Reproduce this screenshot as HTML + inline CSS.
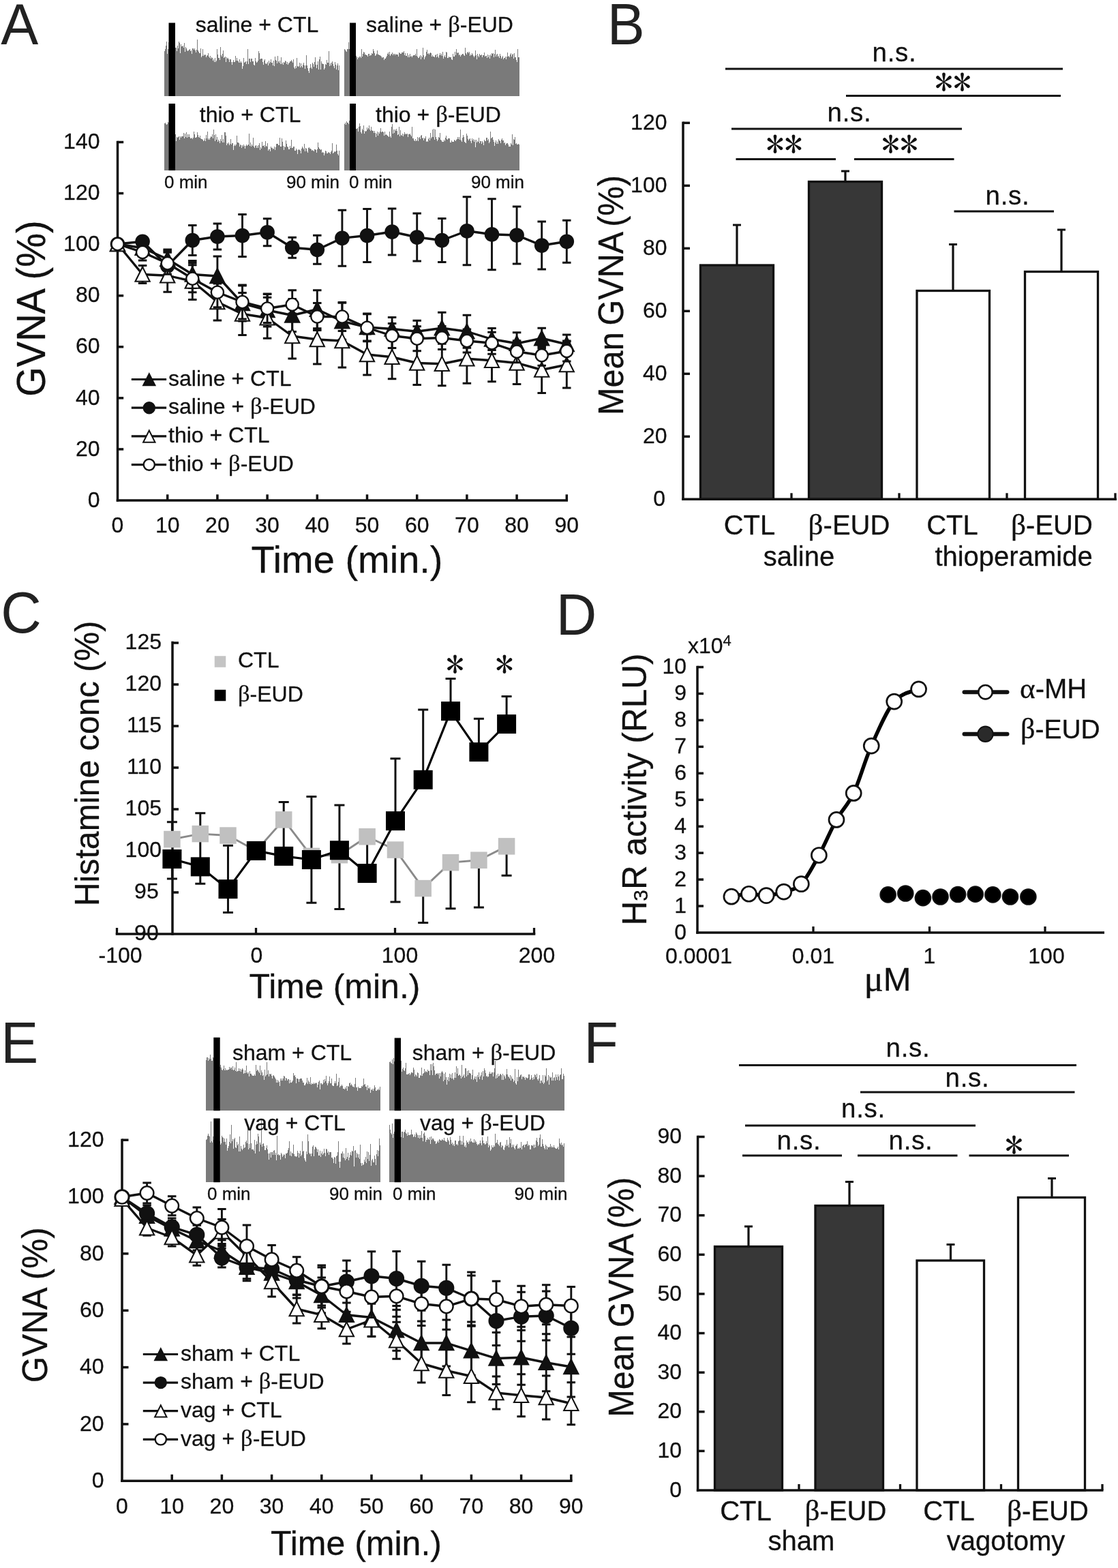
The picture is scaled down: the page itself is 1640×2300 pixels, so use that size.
<!DOCTYPE html>
<html lang="en"><head><meta charset="utf-8"><title>Figure</title>
<style>html,body{margin:0;padding:0;background:#fff;overflow:hidden;width:1640px;height:2300px}svg{display:block}text{stroke:#111;stroke-width:.3px;stroke-linejoin:round}</style>
</head><body>
<svg width="1640" height="2300" viewBox="0 0 1640 2300" font-family="'Liberation Sans', sans-serif" fill="#111">
<rect width="1640" height="2300" fill="#fff"/>
<text x="0" y="0" font-size="85" transform="translate(1.3 65) scale(0.97 1)" fill="#222" style="stroke:none">A</text>
<text x="0" y="0" font-size="85" transform="translate(890.7 65) scale(0.97 1)" fill="#222" style="stroke:none">B</text>
<text x="0" y="0" font-size="85" transform="translate(1.3 927.5) scale(0.97 1)" fill="#222" style="stroke:none">C</text>
<text x="0" y="0" font-size="85" transform="translate(815.7 931.3) scale(0.97 1)" fill="#222" style="stroke:none">D</text>
<text x="0" y="0" font-size="85" transform="translate(1.3 1558.6) scale(0.97 1)" fill="#222" style="stroke:none">E</text>
<text x="0" y="0" font-size="85" transform="translate(856.4 1558.6) scale(0.97 1)" fill="#222" style="stroke:none">F</text>
<path d="M241 140.5V74.9h1V71.7h1V67.4h1V60.5h1V78.5h1V72.2h1V62.2h1V66.8h1V71.5h1V70.9h1V69.8h1V74.1h1V67.6h1V76.7h1V66.2h1V72.7h1V70.3h1V69.6h1V75.4h1V67.2h1V71.3h1V60.5h1V62.5h1V77.5h1V64.6h1V68.3h1V68.1h1V66.6h1V70.0h1V62.6h1V75.8h1V69.2h1V70.5h1V73.6h1V75.2h1V74.2h1V73.2h1V71.7h1V75.3h1V74.4h1V79.3h1V70.9h1V71.3h1V73.4h1V71.2h1V73.8h1V76.9h1V73.3h1V57.9h1V73.6h1V75.7h1V78.0h1V77.6h1V70.5h1V83.8h1V81.8h1V72.3h1V81.9h1V79.8h1V80.8h1V79.7h1V84.0h1V82.3h1V80.9h1V77.7h1V83.2h1V85.4h1V81.8h1V86.3h1V84.1h1V84.9h1V88.6h1V87.1h1V90.5h1V84.6h1V91.0h1V88.6h1V71.7h1V80.4h1V85.4h1V85.0h1V87.5h1V68.5h1V81.1h1V82.5h1V79.1h1V74.2h1V84.5h1V83.6h1V83.2h1V90.6h1V84.4h1V86.2h1V85.2h1V86.5h1V90.5h1V87.1h1V86.9h1V90.6h1V95.0h1V90.7h1V87.9h1V90.5h1V90.5h1V82.3h1V89.1h1V85.3h1V88.7h1V90.3h1V91.6h1V87.0h1V91.7h1V89.5h1V92.3h1V100.9h1V97.3h1V85.1h1V92.4h1V91.2h1V89.5h1V94.1h1V90.3h1V71.7h1V94.1h1V86.4h1V86.1h1V90.6h1V86.0h1V86.0h1V90.0h1V90.3h1V94.5h1V95.7h1V85.0h1V89.8h1V92.4h1V90.6h1V88.8h1V74.6h1V77.5h1V87.3h1V86.1h1V86.1h1V85.5h1V90.5h1V95.0h1V88.7h1V86.9h1V92.8h1V94.0h1V93.3h1V90.8h1V96.0h1V89.2h1V93.2h1V91.2h1V87.3h1V92.4h1V92.1h1V95.7h1V89.2h1V96.9h1V82.7h1V88.3h1V88.8h1V93.1h1V82.0h1V90.2h1V91.9h1V89.0h1V94.1h1V84.2h1V93.7h1V91.9h1V95.3h1V91.3h1V91.6h1V88.7h1V89.5h1V94.0h1V91.0h1V95.2h1V92.8h1V91.5h1V89.7h1V90.1h1V88.3h1V90.3h1V92.2h1V87.2h1V98.8h1V101.4h1V96.6h1V100.1h1V85.4h1V96.6h1V98.3h1V97.3h1V92.2h1V98.8h1V93.1h1V96.6h1V98.7h1V95.3h1V92.2h1V96.2h1V101.1h1V96.3h1V80.9h1V95.7h1V100.0h1V103.5h1V106.5h1V99.9h1V94.0h1V99.1h1V100.6h1V92.2h1V94.0h1V98.1h1V91.1h1V83.8h1V94.9h1V100.0h1V94.7h1V89.9h1V102.0h1V87.1h1V82.5h1V102.2h1V89.8h1V93.0h1V94.1h1V94.4h1V102.0h1V99.8h1V94.2h1V95.2h1V88.2h1V92.0h1V92.1h1V74.8h1V96.6h1V92.8h1V95.6h1V91.8h1V90.1h1V93.5h1V97.1h1V100.1h1V90.9h1V95.3h1V101.8h1V95.8h1V92.7h1V103.1h1V96.0h1V140.5 Z" fill="#7a7a7a" shape-rendering="crispEdges"/>
<rect x="247.5" y="33.5" width="9.5" height="107.5" fill="#000"/>
<path d="M505 140.5V71.5h1V73.4h1V74.5h1V76.1h1V72.1h1V71.7h1V62.1h1V72.1h1V73.4h1V71.2h1V77.7h1V67.6h1V72.3h1V80.4h1V82.6h1V83.5h1V85.1h1V82.3h1V84.0h1V86.6h1V84.3h1V84.5h1V82.8h1V82.7h1V85.0h1V72.2h1V82.5h1V78.8h1V75.5h1V77.3h1V79.8h1V80.4h1V80.5h1V80.9h1V82.8h1V79.1h1V79.2h1V81.9h1V80.6h1V80.7h1V77.8h1V78.6h1V72.0h1V74.5h1V77.7h1V82.2h1V80.6h1V78.7h1V74.3h1V80.2h1V79.9h1V81.0h1V80.8h1V82.4h1V82.8h1V84.9h1V83.6h1V83.7h1V88.4h1V85.5h1V85.7h1V83.9h1V82.2h1V79.0h1V76.9h1V79.5h1V75.9h1V82.2h1V80.1h1V78.9h1V76.8h1V81.3h1V78.5h1V78.7h1V80.7h1V78.7h1V80.1h1V79.8h1V80.0h1V82.8h1V76.9h1V78.3h1V79.1h1V79.4h1V77.1h1V77.3h1V76.5h1V75.2h1V80.8h1V78.1h1V81.8h1V81.8h1V77.5h1V83.7h1V81.0h1V83.6h1V79.3h1V82.5h1V82.3h1V83.8h1V82.2h1V80.5h1V81.4h1V80.6h1V78.5h1V82.3h1V72.4h1V82.7h1V84.8h1V84.7h1V83.0h1V81.2h1V86.8h1V81.8h1V84.4h1V69.9h1V81.4h1V86.6h1V83.8h1V81.8h1V76.0h1V73.3h1V79.3h1V77.7h1V79.5h1V78.3h1V77.4h1V78.1h1V83.2h1V81.1h1V82.6h1V83.2h1V84.0h1V80.9h1V80.2h1V83.6h1V79.4h1V83.1h1V84.8h1V80.5h1V77.7h1V80.6h1V78.5h1V82.1h1V76.3h1V86.0h1V82.6h1V81.4h1V83.8h1V75.8h1V77.3h1V85.4h1V85.1h1V82.8h1V84.4h1V84.4h1V84.3h1V87.3h1V87.6h1V79.4h1V83.4h1V82.8h1V75.8h1V80.7h1V71.6h1V77.4h1V78.3h1V77.3h1V81.1h1V79.9h1V82.5h1V80.5h1V80.0h1V78.8h1V78.9h1V80.9h1V81.9h1V70.3h1V77.8h1V80.1h1V77.2h1V76.0h1V77.7h1V76.4h1V81.6h1V79.6h1V80.6h1V77.9h1V80.0h1V82.3h1V84.4h1V82.0h1V74.3h1V81.3h1V87.1h1V79.4h1V81.6h1V84.3h1V78.9h1V81.4h1V80.9h1V80.3h1V83.8h1V80.8h1V80.5h1V77.1h1V83.4h1V82.2h1V81.9h1V85.2h1V79.9h1V83.9h1V80.9h1V86.3h1V80.2h1V82.0h1V77.7h1V79.1h1V78.3h1V83.9h1V78.7h1V72.6h1V83.1h1V80.0h1V78.6h1V83.3h1V82.4h1V84.9h1V78.6h1V81.9h1V85.6h1V83.9h1V82.4h1V87.3h1V84.5h1V85.0h1V83.3h1V86.9h1V82.7h1V77.4h1V82.9h1V81.5h1V83.5h1V80.1h1V78.2h1V83.4h1V80.2h1V79.4h1V86.0h1V77.6h1V83.5h1V84.1h1V87.7h1V90.9h1V72.4h1V84.0h1V83.6h1V140.5 Z" fill="#7a7a7a" shape-rendering="crispEdges"/>
<rect x="513" y="33.5" width="9" height="107.5" fill="#000"/>
<path d="M241 249.5V180.8h1V179.9h1V181.6h1V182.8h1V182.2h1V179.0h1V179.6h1V181.3h1V179.9h1V185.5h1V177.4h1V182.8h1V200.9h1V197.1h1V199.7h1V185.6h1V197.3h1V206.8h1V200.7h1V202.4h1V200.7h1V200.0h1V204.5h1V200.2h1V202.3h1V199.9h1V200.1h1V200.1h1V195.0h1V203.4h1V195.9h1V200.6h1V194.4h1V201.8h1V197.2h1V201.0h1V196.5h1V200.9h1V203.2h1V203.4h1V201.9h1V203.9h1V202.2h1V193.3h1V196.9h1V202.3h1V201.5h1V200.7h1V193.5h1V197.6h1V200.9h1V201.7h1V199.1h1V203.2h1V203.6h1V203.6h1V205.1h1V207.4h1V206.3h1V203.3h1V207.0h1V198.1h1V203.0h1V193.2h1V204.6h1V202.5h1V205.1h1V201.5h1V200.2h1V200.5h1V197.1h1V203.0h1V190.1h1V198.0h1V206.6h1V197.3h1V205.3h1V200.9h1V207.5h1V204.6h1V206.9h1V209.6h1V203.6h1V206.8h1V198.1h1V209.3h1V203.6h1V208.9h1V193.8h1V194.4h1V199.1h1V213.2h1V210.1h1V210.9h1V208.6h1V213.1h1V211.0h1V203.8h1V212.0h1V210.2h1V209.8h1V220.2h1V214.4h1V212.1h1V213.6h1V212.1h1V199.2h1V208.5h1V208.8h1V209.5h1V214.6h1V212.0h1V212.6h1V216.6h1V212.6h1V215.0h1V211.6h1V213.6h1V217.8h1V214.1h1V211.5h1V213.5h1V213.0h1V211.8h1V196.4h1V213.5h1V209.2h1V215.0h1V212.4h1V213.8h1V202.4h1V215.0h1V216.6h1V213.5h1V212.8h1V217.1h1V214.4h1V216.6h1V212.7h1V210.1h1V219.7h1V215.7h1V218.1h1V208.4h1V213.6h1V214.1h1V212.8h1V215.9h1V206.9h1V214.2h1V215.2h1V210.3h1V221.0h1V219.0h1V218.7h1V221.8h1V214.8h1V216.8h1V217.4h1V218.8h1V218.3h1V215.2h1V220.3h1V216.4h1V211.1h1V211.4h1V211.1h1V213.1h1V213.0h1V201.7h1V215.3h1V214.6h1V203.2h1V208.4h1V213.5h1V219.5h1V215.4h1V215.6h1V206.0h1V211.3h1V215.3h1V216.2h1V218.7h1V218.8h1V214.1h1V217.2h1V205.4h1V216.6h1V217.3h1V215.3h1V215.3h1V220.5h1V221.3h1V218.2h1V220.1h1V225.5h1V220.1h1V219.2h1V220.2h1V220.9h1V224.6h1V218.4h1V214.9h1V217.3h1V218.5h1V211.1h1V221.5h1V216.6h1V217.6h1V222.2h1V224.1h1V217.4h1V215.7h1V218.4h1V218.4h1V218.8h1V221.0h1V220.1h1V221.0h1V222.4h1V219.2h1V219.2h1V220.4h1V223.8h1V219.4h1V208.9h1V215.6h1V217.5h1V218.8h1V219.8h1V218.7h1V223.9h1V223.3h1V224.1h1V227.7h1V224.5h1V220.7h1V222.2h1V225.2h1V224.7h1V223.1h1V223.9h1V224.4h1V225.9h1V223.4h1V221.3h1V209.8h1V225.0h1V223.8h1V221.7h1V223.0h1V221.9h1V212.2h1V221.3h1V226.0h1V227.5h1V220.7h1V249.5 Z" fill="#7a7a7a" shape-rendering="crispEdges"/>
<rect x="247.5" y="152" width="9.5" height="98" fill="#000"/>
<path d="M505 249.5V181.7h1V179.7h1V182.7h1V178.1h1V180.2h1V180.3h1V181.8h1V177.2h1V184.9h1V182.6h1V175.1h1V181.8h1V178.9h1V189.2h1V189.5h1V190.3h1V189.0h1V188.8h1V189.4h1V188.3h1V192.5h1V186.4h1V180.9h1V184.8h1V194.2h1V195.8h1V188.7h1V191.4h1V184.2h1V195.9h1V191.5h1V192.6h1V191.8h1V187.1h1V190.0h1V188.0h1V183.9h1V190.2h1V191.6h1V185.6h1V190.5h1V192.2h1V191.8h1V195.0h1V192.4h1V195.4h1V200.9h1V195.7h1V193.1h1V198.5h1V193.6h1V195.7h1V193.4h1V187.9h1V193.7h1V192.8h1V193.2h1V193.5h1V198.6h1V193.3h1V197.9h1V196.8h1V198.0h1V199.4h1V200.3h1V200.8h1V192.8h1V199.8h1V202.2h1V185.9h1V181.9h1V196.1h1V189.5h1V194.7h1V190.0h1V192.2h1V189.4h1V192.3h1V197.9h1V196.5h1V185.5h1V199.6h1V191.4h1V197.5h1V199.4h1V195.7h1V199.5h1V196.8h1V193.9h1V197.1h1V195.6h1V196.9h1V195.7h1V201.0h1V196.9h1V197.2h1V195.7h1V197.5h1V200.4h1V185.6h1V202.5h1V202.9h1V205.7h1V207.0h1V203.9h1V207.2h1V206.2h1V200.7h1V206.9h1V201.8h1V201.1h1V203.6h1V198.5h1V198.1h1V203.1h1V202.3h1V205.7h1V203.2h1V203.0h1V199.9h1V208.4h1V206.9h1V207.5h1V203.7h1V202.1h1V206.0h1V194.8h1V202.6h1V201.4h1V189.6h1V201.0h1V188.9h1V205.1h1V189.5h1V201.1h1V204.1h1V207.0h1V204.8h1V201.4h1V201.9h1V194.5h1V204.6h1V205.9h1V207.6h1V207.6h1V207.8h1V204.7h1V207.4h1V201.6h1V199.0h1V204.3h1V204.9h1V202.7h1V203.4h1V203.2h1V208.9h1V208.6h1V205.9h1V208.0h1V207.5h1V207.7h1V205.4h1V205.7h1V206.7h1V205.4h1V203.6h1V200.5h1V203.5h1V200.5h1V205.3h1V189.8h1V205.9h1V207.6h1V202.0h1V197.5h1V201.2h1V207.5h1V209.1h1V209.7h1V196.3h1V199.0h1V204.4h1V206.2h1V203.6h1V203.3h1V207.1h1V210.4h1V202.9h1V206.1h1V203.6h1V207.9h1V205.2h1V215.5h1V205.3h1V208.8h1V206.7h1V208.1h1V201.5h1V210.0h1V206.9h1V206.5h1V211.1h1V207.4h1V208.5h1V212.9h1V205.3h1V207.1h1V207.4h1V201.5h1V201.7h1V205.7h1V203.6h1V210.1h1V208.3h1V193.2h1V203.2h1V202.1h1V200.9h1V204.9h1V207.9h1V213.5h1V209.2h1V206.2h1V211.0h1V207.6h1V210.6h1V204.1h1V206.4h1V206.5h1V210.2h1V205.3h1V202.8h1V206.0h1V206.1h1V210.0h1V209.1h1V213.4h1V210.8h1V209.7h1V210.1h1V212.1h1V214.8h1V215.2h1V214.9h1V210.1h1V211.6h1V197.4h1V212.8h1V204.3h1V204.8h1V201.3h1V211.1h1V210.0h1V212.2h1V211.7h1V211.2h1V211.7h1V249.5 Z" fill="#7a7a7a" shape-rendering="crispEdges"/>
<rect x="513" y="152" width="9" height="98" fill="#000"/>
<text x="377" y="46.8" font-size="32" text-anchor="middle">saline + CTL</text>
<text x="645" y="46.8" font-size="32" text-anchor="middle">saline + <tspan font-family="'Liberation Serif', serif" font-size="108%">β</tspan>-EUD</text>
<text x="367" y="179" font-size="32" text-anchor="middle">thio + CTL</text>
<text x="643" y="179" font-size="32" text-anchor="middle">thio + <tspan font-family="'Liberation Serif', serif" font-size="108%">β</tspan>-EUD</text>
<text x="241" y="276" font-size="26">0 min</text>
<text x="498" y="276" font-size="26" text-anchor="end">90 min</text>
<text x="512" y="276" font-size="26">0 min</text>
<text x="769" y="276" font-size="26" text-anchor="end">90 min</text>
<line x1="172.5" y1="206.746" x2="172.5" y2="735.75" stroke="#111" stroke-width="3.5" stroke-linecap="butt"/>
<line x1="170.75" y1="734" x2="833.05" y2="734" stroke="#111" stroke-width="3.5" stroke-linecap="butt"/>
<line x1="172.5" y1="658.928" x2="181.2" y2="658.928" stroke="#111" stroke-width="3.5" stroke-linecap="butt"/>
<line x1="172.5" y1="583.856" x2="181.2" y2="583.856" stroke="#111" stroke-width="3.5" stroke-linecap="butt"/>
<line x1="172.5" y1="508.784" x2="181.2" y2="508.784" stroke="#111" stroke-width="3.5" stroke-linecap="butt"/>
<line x1="172.5" y1="433.712" x2="181.2" y2="433.712" stroke="#111" stroke-width="3.5" stroke-linecap="butt"/>
<line x1="172.5" y1="358.64" x2="181.2" y2="358.64" stroke="#111" stroke-width="3.5" stroke-linecap="butt"/>
<line x1="172.5" y1="283.568" x2="181.2" y2="283.568" stroke="#111" stroke-width="3.5" stroke-linecap="butt"/>
<line x1="172.5" y1="208.496" x2="181.2" y2="208.496" stroke="#111" stroke-width="3.5" stroke-linecap="butt"/>
<line x1="245.7" y1="734" x2="245.7" y2="725.3" stroke="#111" stroke-width="3.5" stroke-linecap="butt"/>
<line x1="318.9" y1="734" x2="318.9" y2="725.3" stroke="#111" stroke-width="3.5" stroke-linecap="butt"/>
<line x1="392.1" y1="734" x2="392.1" y2="725.3" stroke="#111" stroke-width="3.5" stroke-linecap="butt"/>
<line x1="465.3" y1="734" x2="465.3" y2="725.3" stroke="#111" stroke-width="3.5" stroke-linecap="butt"/>
<line x1="538.5" y1="734" x2="538.5" y2="725.3" stroke="#111" stroke-width="3.5" stroke-linecap="butt"/>
<line x1="611.7" y1="734" x2="611.7" y2="725.3" stroke="#111" stroke-width="3.5" stroke-linecap="butt"/>
<line x1="684.9" y1="734" x2="684.9" y2="725.3" stroke="#111" stroke-width="3.5" stroke-linecap="butt"/>
<line x1="758.1" y1="734" x2="758.1" y2="725.3" stroke="#111" stroke-width="3.5" stroke-linecap="butt"/>
<line x1="831.3" y1="734" x2="831.3" y2="725.3" stroke="#111" stroke-width="3.5" stroke-linecap="butt"/>
<text x="146.5" y="743.7" font-size="32" text-anchor="end">0</text>
<text x="146.5" y="668.628" font-size="32" text-anchor="end">20</text>
<text x="146.5" y="593.556" font-size="32" text-anchor="end">40</text>
<text x="146.5" y="518.484" font-size="32" text-anchor="end">60</text>
<text x="146.5" y="443.412" font-size="32" text-anchor="end">80</text>
<text x="146.5" y="368.34" font-size="32" text-anchor="end">100</text>
<text x="146.5" y="293.268" font-size="32" text-anchor="end">120</text>
<text x="146.5" y="218.196" font-size="32" text-anchor="end">140</text>
<text x="172.5" y="781" font-size="32" text-anchor="middle">0</text>
<text x="245.7" y="781" font-size="32" text-anchor="middle">10</text>
<text x="318.9" y="781" font-size="32" text-anchor="middle">20</text>
<text x="392.1" y="781" font-size="32" text-anchor="middle">30</text>
<text x="465.3" y="781" font-size="32" text-anchor="middle">40</text>
<text x="538.5" y="781" font-size="32" text-anchor="middle">50</text>
<text x="611.7" y="781" font-size="32" text-anchor="middle">60</text>
<text x="684.9" y="781" font-size="32" text-anchor="middle">70</text>
<text x="758.1" y="781" font-size="32" text-anchor="middle">80</text>
<text x="831.3" y="781" font-size="32" text-anchor="middle">90</text>
<polyline points="172.5,358 209.1,363.75 245.7,380 282.3,402.5 318.9,405 355.5,445 392.1,455 428.7,462.5 465.3,453.75 501.9,471.25 538.5,480 575.1,482.5 611.7,486.25 648.3,481.25 684.9,486.25 721.5,497.5 758.1,503.75 794.7,496.25 831.3,505" fill="none" stroke="#111" stroke-width="3.4" stroke-linejoin="round"/>
<path d="M209.1 353.75V373.75M202.85 353.75H215.35M202.85 373.75H215.35" fill="none" stroke="#111" stroke-width="2.9"/>
<path d="M245.7 366V394M239.45 366H251.95M239.45 394H251.95" fill="none" stroke="#111" stroke-width="2.9"/>
<path d="M282.3 382.5V422.5M276.05 382.5H288.55M276.05 422.5H288.55" fill="none" stroke="#111" stroke-width="2.9"/>
<path d="M318.9 376V434M312.65 376H325.15M312.65 434H325.15" fill="none" stroke="#111" stroke-width="2.9"/>
<path d="M355.5 419V471M349.25 419H361.75M349.25 471H361.75" fill="none" stroke="#111" stroke-width="2.9"/>
<path d="M392.1 431V479M385.85 431H398.35M385.85 479H398.35" fill="none" stroke="#111" stroke-width="2.9"/>
<path d="M428.7 438.5V486.5M422.45 438.5H434.95M422.45 486.5H434.95" fill="none" stroke="#111" stroke-width="2.9"/>
<path d="M465.3 425.75V481.75M459.05 425.75H471.55M459.05 481.75H471.55" fill="none" stroke="#111" stroke-width="2.9"/>
<path d="M501.9 444.25V498.25M495.65 444.25H508.15M495.65 498.25H508.15" fill="none" stroke="#111" stroke-width="2.9"/>
<path d="M538.5 460V500M532.25 460H544.75M532.25 500H544.75" fill="none" stroke="#111" stroke-width="2.9"/>
<path d="M575.1 465.5V499.5M568.85 465.5H581.35M568.85 499.5H581.35" fill="none" stroke="#111" stroke-width="2.9"/>
<path d="M611.7 470.25V502.25M605.45 470.25H617.95M605.45 502.25H617.95" fill="none" stroke="#111" stroke-width="2.9"/>
<path d="M648.3 458.25V504.25M642.05 458.25H654.55M642.05 504.25H654.55" fill="none" stroke="#111" stroke-width="2.9"/>
<path d="M684.9 462.25V510.25M678.65 462.25H691.15M678.65 510.25H691.15" fill="none" stroke="#111" stroke-width="2.9"/>
<path d="M721.5 481.5V513.5M715.25 481.5H727.75M715.25 513.5H727.75" fill="none" stroke="#111" stroke-width="2.9"/>
<path d="M758.1 487.75V519.75M751.85 487.75H764.35M751.85 519.75H764.35" fill="none" stroke="#111" stroke-width="2.9"/>
<path d="M794.7 481.25V511.25M788.45 481.25H800.95M788.45 511.25H800.95" fill="none" stroke="#111" stroke-width="2.9"/>
<path d="M831.3 491V519M825.05 491H837.55M825.05 519H837.55" fill="none" stroke="#111" stroke-width="2.9"/>
<path d="M172.50 347.15L183.10 368.20L161.90 368.20Z" fill="#111" stroke="#111" stroke-width="2.1" stroke-linejoin="miter"/>
<path d="M209.10 352.90L219.70 373.95L198.50 373.95Z" fill="#111" stroke="#111" stroke-width="2.1" stroke-linejoin="miter"/>
<path d="M245.70 369.15L256.30 390.20L235.10 390.20Z" fill="#111" stroke="#111" stroke-width="2.1" stroke-linejoin="miter"/>
<path d="M282.30 391.65L292.90 412.70L271.70 412.70Z" fill="#111" stroke="#111" stroke-width="2.1" stroke-linejoin="miter"/>
<path d="M318.90 394.15L329.50 415.20L308.30 415.20Z" fill="#111" stroke="#111" stroke-width="2.1" stroke-linejoin="miter"/>
<path d="M355.50 434.15L366.10 455.20L344.90 455.20Z" fill="#111" stroke="#111" stroke-width="2.1" stroke-linejoin="miter"/>
<path d="M392.10 444.15L402.70 465.20L381.50 465.20Z" fill="#111" stroke="#111" stroke-width="2.1" stroke-linejoin="miter"/>
<path d="M428.70 451.65L439.30 472.70L418.10 472.70Z" fill="#111" stroke="#111" stroke-width="2.1" stroke-linejoin="miter"/>
<path d="M465.30 442.90L475.90 463.95L454.70 463.95Z" fill="#111" stroke="#111" stroke-width="2.1" stroke-linejoin="miter"/>
<path d="M501.90 460.40L512.50 481.45L491.30 481.45Z" fill="#111" stroke="#111" stroke-width="2.1" stroke-linejoin="miter"/>
<path d="M538.50 469.15L549.10 490.20L527.90 490.20Z" fill="#111" stroke="#111" stroke-width="2.1" stroke-linejoin="miter"/>
<path d="M575.10 471.65L585.70 492.70L564.50 492.70Z" fill="#111" stroke="#111" stroke-width="2.1" stroke-linejoin="miter"/>
<path d="M611.70 475.40L622.30 496.45L601.10 496.45Z" fill="#111" stroke="#111" stroke-width="2.1" stroke-linejoin="miter"/>
<path d="M648.30 470.40L658.90 491.45L637.70 491.45Z" fill="#111" stroke="#111" stroke-width="2.1" stroke-linejoin="miter"/>
<path d="M684.90 475.40L695.50 496.45L674.30 496.45Z" fill="#111" stroke="#111" stroke-width="2.1" stroke-linejoin="miter"/>
<path d="M721.50 486.65L732.10 507.70L710.90 507.70Z" fill="#111" stroke="#111" stroke-width="2.1" stroke-linejoin="miter"/>
<path d="M758.10 492.90L768.70 513.95L747.50 513.95Z" fill="#111" stroke="#111" stroke-width="2.1" stroke-linejoin="miter"/>
<path d="M794.70 485.40L805.30 506.45L784.10 506.45Z" fill="#111" stroke="#111" stroke-width="2.1" stroke-linejoin="miter"/>
<path d="M831.30 494.15L841.90 515.20L820.70 515.20Z" fill="#111" stroke="#111" stroke-width="2.1" stroke-linejoin="miter"/>
<polyline points="172.5,358 209.1,354.25 245.7,390 282.3,352.5 318.9,347 355.5,345.5 392.1,340.75 428.7,363.25 465.3,366.25 501.9,349.25 538.5,345.5 575.1,340 611.7,348 648.3,352.5 684.9,338.75 721.5,343.75 758.1,345 794.7,360 831.3,354.25" fill="none" stroke="#111" stroke-width="3.4" stroke-linejoin="round"/>
<path d="M209.1 349.25V359.25M202.85 349.25H215.35M202.85 359.25H215.35" fill="none" stroke="#111" stroke-width="2.9"/>
<path d="M245.7 368V412M239.45 368H251.95M239.45 412H251.95" fill="none" stroke="#111" stroke-width="2.9"/>
<path d="M282.3 330.5V374.5M276.05 330.5H288.55M276.05 374.5H288.55" fill="none" stroke="#111" stroke-width="2.9"/>
<path d="M318.9 328V366M312.65 328H325.15M312.65 366H325.15" fill="none" stroke="#111" stroke-width="2.9"/>
<path d="M355.5 314.5V376.5M349.25 314.5H361.75M349.25 376.5H361.75" fill="none" stroke="#111" stroke-width="2.9"/>
<path d="M392.1 320.75V360.75M385.85 320.75H398.35M385.85 360.75H398.35" fill="none" stroke="#111" stroke-width="2.9"/>
<path d="M428.7 348.25V378.25M422.45 348.25H434.95M422.45 378.25H434.95" fill="none" stroke="#111" stroke-width="2.9"/>
<path d="M465.3 345.25V387.25M459.05 345.25H471.55M459.05 387.25H471.55" fill="none" stroke="#111" stroke-width="2.9"/>
<path d="M501.9 308.25V390.25M495.65 308.25H508.15M495.65 390.25H508.15" fill="none" stroke="#111" stroke-width="2.9"/>
<path d="M538.5 306.5V384.5M532.25 306.5H544.75M532.25 384.5H544.75" fill="none" stroke="#111" stroke-width="2.9"/>
<path d="M575.1 306V374M568.85 306H581.35M568.85 374H581.35" fill="none" stroke="#111" stroke-width="2.9"/>
<path d="M611.7 313V383M605.45 313H617.95M605.45 383H617.95" fill="none" stroke="#111" stroke-width="2.9"/>
<path d="M648.3 320.5V384.5M642.05 320.5H654.55M642.05 384.5H654.55" fill="none" stroke="#111" stroke-width="2.9"/>
<path d="M684.9 288.75V388.75M678.65 288.75H691.15M678.65 388.75H691.15" fill="none" stroke="#111" stroke-width="2.9"/>
<path d="M721.5 291.75V395.75M715.25 291.75H727.75M715.25 395.75H727.75" fill="none" stroke="#111" stroke-width="2.9"/>
<path d="M758.1 303V387M751.85 303H764.35M751.85 387H764.35" fill="none" stroke="#111" stroke-width="2.9"/>
<path d="M794.7 325V395M788.45 325H800.95M788.45 395H800.95" fill="none" stroke="#111" stroke-width="2.9"/>
<path d="M831.3 323.25V385.25M825.05 323.25H837.55M825.05 385.25H837.55" fill="none" stroke="#111" stroke-width="2.9"/>
<circle cx="172.5" cy="358" r="9.7" fill="#111" stroke="#111" stroke-width="2.2"/>
<circle cx="209.1" cy="354.25" r="9.7" fill="#111" stroke="#111" stroke-width="2.2"/>
<circle cx="245.7" cy="390" r="9.7" fill="#111" stroke="#111" stroke-width="2.2"/>
<circle cx="282.3" cy="352.5" r="9.7" fill="#111" stroke="#111" stroke-width="2.2"/>
<circle cx="318.9" cy="347" r="9.7" fill="#111" stroke="#111" stroke-width="2.2"/>
<circle cx="355.5" cy="345.5" r="9.7" fill="#111" stroke="#111" stroke-width="2.2"/>
<circle cx="392.1" cy="340.75" r="9.7" fill="#111" stroke="#111" stroke-width="2.2"/>
<circle cx="428.7" cy="363.25" r="9.7" fill="#111" stroke="#111" stroke-width="2.2"/>
<circle cx="465.3" cy="366.25" r="9.7" fill="#111" stroke="#111" stroke-width="2.2"/>
<circle cx="501.9" cy="349.25" r="9.7" fill="#111" stroke="#111" stroke-width="2.2"/>
<circle cx="538.5" cy="345.5" r="9.7" fill="#111" stroke="#111" stroke-width="2.2"/>
<circle cx="575.1" cy="340" r="9.7" fill="#111" stroke="#111" stroke-width="2.2"/>
<circle cx="611.7" cy="348" r="9.7" fill="#111" stroke="#111" stroke-width="2.2"/>
<circle cx="648.3" cy="352.5" r="9.7" fill="#111" stroke="#111" stroke-width="2.2"/>
<circle cx="684.9" cy="338.75" r="9.7" fill="#111" stroke="#111" stroke-width="2.2"/>
<circle cx="721.5" cy="343.75" r="9.7" fill="#111" stroke="#111" stroke-width="2.2"/>
<circle cx="758.1" cy="345" r="9.7" fill="#111" stroke="#111" stroke-width="2.2"/>
<circle cx="794.7" cy="360" r="9.7" fill="#111" stroke="#111" stroke-width="2.2"/>
<circle cx="831.3" cy="354.25" r="9.7" fill="#111" stroke="#111" stroke-width="2.2"/>
<polyline points="172.5,358 209.1,402.5 245.7,404.25 282.3,412.5 318.9,443 355.5,460.5 392.1,466.25 428.7,493 465.3,498 501.9,500 538.5,520 575.1,523.75 611.7,532.5 648.3,533.75 684.9,526.25 721.5,528.75 758.1,532.5 794.7,542.5 831.3,535" fill="none" stroke="#111" stroke-width="3.4" stroke-linejoin="round"/>
<path d="M209.1 389.5V415.5M202.85 389.5H215.35M202.85 415.5H215.35" fill="none" stroke="#111" stroke-width="2.9"/>
<path d="M245.7 380.25V428.25M239.45 380.25H251.95M239.45 428.25H251.95" fill="none" stroke="#111" stroke-width="2.9"/>
<path d="M282.3 385.5V439.5M276.05 385.5H288.55M276.05 439.5H288.55" fill="none" stroke="#111" stroke-width="2.9"/>
<path d="M318.9 416V470M312.65 416H325.15M312.65 470H325.15" fill="none" stroke="#111" stroke-width="2.9"/>
<path d="M355.5 429.5V491.5M349.25 429.5H361.75M349.25 491.5H361.75" fill="none" stroke="#111" stroke-width="2.9"/>
<path d="M392.1 436.25V496.25M385.85 436.25H398.35M385.85 496.25H398.35" fill="none" stroke="#111" stroke-width="2.9"/>
<path d="M428.7 460V526M422.45 460H434.95M422.45 526H434.95" fill="none" stroke="#111" stroke-width="2.9"/>
<path d="M465.3 462V534M459.05 462H471.55M459.05 534H471.55" fill="none" stroke="#111" stroke-width="2.9"/>
<path d="M501.9 461V539M495.65 461H508.15M495.65 539H508.15" fill="none" stroke="#111" stroke-width="2.9"/>
<path d="M538.5 490V550M532.25 490H544.75M532.25 550H544.75" fill="none" stroke="#111" stroke-width="2.9"/>
<path d="M575.1 491.75V555.75M568.85 491.75H581.35M568.85 555.75H581.35" fill="none" stroke="#111" stroke-width="2.9"/>
<path d="M611.7 500.5V564.5M605.45 500.5H617.95M605.45 564.5H617.95" fill="none" stroke="#111" stroke-width="2.9"/>
<path d="M648.3 501.75V565.75M642.05 501.75H654.55M642.05 565.75H654.55" fill="none" stroke="#111" stroke-width="2.9"/>
<path d="M684.9 490.25V562.25M678.65 490.25H691.15M678.65 562.25H691.15" fill="none" stroke="#111" stroke-width="2.9"/>
<path d="M721.5 497.75V559.75M715.25 497.75H727.75M715.25 559.75H727.75" fill="none" stroke="#111" stroke-width="2.9"/>
<path d="M758.1 501.5V563.5M751.85 501.5H764.35M751.85 563.5H764.35" fill="none" stroke="#111" stroke-width="2.9"/>
<path d="M794.7 508.5V576.5M788.45 508.5H800.95M788.45 576.5H800.95" fill="none" stroke="#111" stroke-width="2.9"/>
<path d="M831.3 501V569M825.05 501H837.55M825.05 569H837.55" fill="none" stroke="#111" stroke-width="2.9"/>
<path d="M172.50 347.15L183.10 368.20L161.90 368.20Z" fill="#fff" stroke="#111" stroke-width="2.1" stroke-linejoin="miter"/>
<path d="M209.10 391.65L219.70 412.70L198.50 412.70Z" fill="#fff" stroke="#111" stroke-width="2.1" stroke-linejoin="miter"/>
<path d="M245.70 393.40L256.30 414.45L235.10 414.45Z" fill="#fff" stroke="#111" stroke-width="2.1" stroke-linejoin="miter"/>
<path d="M282.30 401.65L292.90 422.70L271.70 422.70Z" fill="#fff" stroke="#111" stroke-width="2.1" stroke-linejoin="miter"/>
<path d="M318.90 432.15L329.50 453.20L308.30 453.20Z" fill="#fff" stroke="#111" stroke-width="2.1" stroke-linejoin="miter"/>
<path d="M355.50 449.65L366.10 470.70L344.90 470.70Z" fill="#fff" stroke="#111" stroke-width="2.1" stroke-linejoin="miter"/>
<path d="M392.10 455.40L402.70 476.45L381.50 476.45Z" fill="#fff" stroke="#111" stroke-width="2.1" stroke-linejoin="miter"/>
<path d="M428.70 482.15L439.30 503.20L418.10 503.20Z" fill="#fff" stroke="#111" stroke-width="2.1" stroke-linejoin="miter"/>
<path d="M465.30 487.15L475.90 508.20L454.70 508.20Z" fill="#fff" stroke="#111" stroke-width="2.1" stroke-linejoin="miter"/>
<path d="M501.90 489.15L512.50 510.20L491.30 510.20Z" fill="#fff" stroke="#111" stroke-width="2.1" stroke-linejoin="miter"/>
<path d="M538.50 509.15L549.10 530.20L527.90 530.20Z" fill="#fff" stroke="#111" stroke-width="2.1" stroke-linejoin="miter"/>
<path d="M575.10 512.90L585.70 533.95L564.50 533.95Z" fill="#fff" stroke="#111" stroke-width="2.1" stroke-linejoin="miter"/>
<path d="M611.70 521.65L622.30 542.70L601.10 542.70Z" fill="#fff" stroke="#111" stroke-width="2.1" stroke-linejoin="miter"/>
<path d="M648.30 522.90L658.90 543.95L637.70 543.95Z" fill="#fff" stroke="#111" stroke-width="2.1" stroke-linejoin="miter"/>
<path d="M684.90 515.40L695.50 536.45L674.30 536.45Z" fill="#fff" stroke="#111" stroke-width="2.1" stroke-linejoin="miter"/>
<path d="M721.50 517.90L732.10 538.95L710.90 538.95Z" fill="#fff" stroke="#111" stroke-width="2.1" stroke-linejoin="miter"/>
<path d="M758.10 521.65L768.70 542.70L747.50 542.70Z" fill="#fff" stroke="#111" stroke-width="2.1" stroke-linejoin="miter"/>
<path d="M794.70 531.65L805.30 552.70L784.10 552.70Z" fill="#fff" stroke="#111" stroke-width="2.1" stroke-linejoin="miter"/>
<path d="M831.30 524.15L841.90 545.20L820.70 545.20Z" fill="#fff" stroke="#111" stroke-width="2.1" stroke-linejoin="miter"/>
<polyline points="172.5,358 209.1,370 245.7,386.25 282.3,408.75 318.9,428.75 355.5,443 392.1,452.5 428.7,446.75 465.3,464.5 501.9,464.5 538.5,480.75 575.1,492.5 611.7,496.75 648.3,495.5 684.9,500 721.5,503.25 758.1,515.75 794.7,521.25 831.3,515" fill="none" stroke="#111" stroke-width="3.4" stroke-linejoin="round"/>
<path d="M209.1 358V382M202.85 358H215.35M202.85 382H215.35" fill="none" stroke="#111" stroke-width="2.9"/>
<path d="M245.7 370.25V402.25M239.45 370.25H251.95M239.45 402.25H251.95" fill="none" stroke="#111" stroke-width="2.9"/>
<path d="M282.3 388.75V428.75M276.05 388.75H288.55M276.05 428.75H288.55" fill="none" stroke="#111" stroke-width="2.9"/>
<path d="M318.9 406.75V450.75M312.65 406.75H325.15M312.65 450.75H325.15" fill="none" stroke="#111" stroke-width="2.9"/>
<path d="M355.5 418V468M349.25 418H361.75M349.25 468H361.75" fill="none" stroke="#111" stroke-width="2.9"/>
<path d="M392.1 431.5V473.5M385.85 431.5H398.35M385.85 473.5H398.35" fill="none" stroke="#111" stroke-width="2.9"/>
<path d="M428.7 425.75V467.75M422.45 425.75H434.95M422.45 467.75H434.95" fill="none" stroke="#111" stroke-width="2.9"/>
<path d="M465.3 444.5V484.5M459.05 444.5H471.55M459.05 484.5H471.55" fill="none" stroke="#111" stroke-width="2.9"/>
<path d="M501.9 443.5V485.5M495.65 443.5H508.15M495.65 485.5H508.15" fill="none" stroke="#111" stroke-width="2.9"/>
<path d="M538.5 460.75V500.75M532.25 460.75H544.75M532.25 500.75H544.75" fill="none" stroke="#111" stroke-width="2.9"/>
<path d="M575.1 474.5V510.5M568.85 474.5H581.35M568.85 510.5H581.35" fill="none" stroke="#111" stroke-width="2.9"/>
<path d="M611.7 478.75V514.75M605.45 478.75H617.95M605.45 514.75H617.95" fill="none" stroke="#111" stroke-width="2.9"/>
<path d="M648.3 478.5V512.5M642.05 478.5H654.55M642.05 512.5H654.55" fill="none" stroke="#111" stroke-width="2.9"/>
<path d="M684.9 483V517M678.65 483H691.15M678.65 517H691.15" fill="none" stroke="#111" stroke-width="2.9"/>
<path d="M721.5 487.25V519.25M715.25 487.25H727.75M715.25 519.25H727.75" fill="none" stroke="#111" stroke-width="2.9"/>
<path d="M758.1 499.75V531.75M751.85 499.75H764.35M751.85 531.75H764.35" fill="none" stroke="#111" stroke-width="2.9"/>
<path d="M794.7 506.25V536.25M788.45 506.25H800.95M788.45 536.25H800.95" fill="none" stroke="#111" stroke-width="2.9"/>
<path d="M831.3 500V530M825.05 500H837.55M825.05 530H837.55" fill="none" stroke="#111" stroke-width="2.9"/>
<circle cx="172.5" cy="358" r="9.1" fill="#fff" stroke="#111" stroke-width="2.4"/>
<circle cx="209.1" cy="370" r="9.1" fill="#fff" stroke="#111" stroke-width="2.4"/>
<circle cx="245.7" cy="386.25" r="9.1" fill="#fff" stroke="#111" stroke-width="2.4"/>
<circle cx="282.3" cy="408.75" r="9.1" fill="#fff" stroke="#111" stroke-width="2.4"/>
<circle cx="318.9" cy="428.75" r="9.1" fill="#fff" stroke="#111" stroke-width="2.4"/>
<circle cx="355.5" cy="443" r="9.1" fill="#fff" stroke="#111" stroke-width="2.4"/>
<circle cx="392.1" cy="452.5" r="9.1" fill="#fff" stroke="#111" stroke-width="2.4"/>
<circle cx="428.7" cy="446.75" r="9.1" fill="#fff" stroke="#111" stroke-width="2.4"/>
<circle cx="465.3" cy="464.5" r="9.1" fill="#fff" stroke="#111" stroke-width="2.4"/>
<circle cx="501.9" cy="464.5" r="9.1" fill="#fff" stroke="#111" stroke-width="2.4"/>
<circle cx="538.5" cy="480.75" r="9.1" fill="#fff" stroke="#111" stroke-width="2.4"/>
<circle cx="575.1" cy="492.5" r="9.1" fill="#fff" stroke="#111" stroke-width="2.4"/>
<circle cx="611.7" cy="496.75" r="9.1" fill="#fff" stroke="#111" stroke-width="2.4"/>
<circle cx="648.3" cy="495.5" r="9.1" fill="#fff" stroke="#111" stroke-width="2.4"/>
<circle cx="684.9" cy="500" r="9.1" fill="#fff" stroke="#111" stroke-width="2.4"/>
<circle cx="721.5" cy="503.25" r="9.1" fill="#fff" stroke="#111" stroke-width="2.4"/>
<circle cx="758.1" cy="515.75" r="9.1" fill="#fff" stroke="#111" stroke-width="2.4"/>
<circle cx="794.7" cy="521.25" r="9.1" fill="#fff" stroke="#111" stroke-width="2.4"/>
<circle cx="831.3" cy="515" r="9.1" fill="#fff" stroke="#111" stroke-width="2.4"/>
<line x1="192.8" y1="556.5" x2="244.1" y2="556.5" stroke="#111" stroke-width="3.2" stroke-linecap="butt"/>
<path d="M218.80 548.10L227.49 565.36L210.11 565.36Z" fill="#111" stroke="#111" stroke-width="2" stroke-linejoin="miter"/>
<text x="247" y="565.7" font-size="32">saline + CTL</text>
<line x1="192.8" y1="598.2" x2="244.1" y2="598.2" stroke="#111" stroke-width="3.2" stroke-linecap="butt"/>
<circle cx="218.8" cy="598.2" r="8.1" fill="#111" stroke="#111" stroke-width="2.2"/>
<text x="247" y="607.4" font-size="32">saline + <tspan font-family="'Liberation Serif', serif" font-size="108%">β</tspan>-EUD</text>
<line x1="192.8" y1="639.9" x2="244.1" y2="639.9" stroke="#111" stroke-width="3.2" stroke-linecap="butt"/>
<path d="M218.80 631.50L227.49 648.76L210.11 648.76Z" fill="#fff" stroke="#111" stroke-width="2" stroke-linejoin="miter"/>
<text x="247" y="649.1" font-size="32">thio + CTL</text>
<line x1="192.8" y1="681.6" x2="244.1" y2="681.6" stroke="#111" stroke-width="3.2" stroke-linecap="butt"/>
<circle cx="218.8" cy="681.6" r="8.1" fill="#fff" stroke="#111" stroke-width="2.4"/>
<text x="247" y="690.8" font-size="32">thio + <tspan font-family="'Liberation Serif', serif" font-size="108%">β</tspan>-EUD</text>
<text x="0" y="0" font-size="59" text-anchor="middle" transform="translate(66.2 452.6) rotate(-90) scale(0.95 1)">GVNA (%)</text>
<text x="509" y="839.7" font-size="56" text-anchor="middle">Time (min.)</text>
<path d="M302 1628.7V1554.7h1V1551.3h1V1550.9h1V1555.8h1V1551.6h1V1553.8h1V1547.1h1V1553.4h1V1556.2h1V1556.1h1V1551.0h1V1551.5h1V1555.2h1V1556.9h1V1557.9h1V1556.5h1V1558.9h1V1562.9h1V1562.7h1V1558.4h1V1565.2h1V1561.8h1V1566.2h1V1569.2h1V1570.4h1V1567.6h1V1562.9h1V1569.7h1V1566.6h1V1569.6h1V1569.1h1V1570.4h1V1569.2h1V1568.6h1V1564.9h1V1567.6h1V1565.6h1V1565.7h1V1569.1h1V1564.0h1V1569.5h1V1568.5h1V1566.4h1V1571.3h1V1557.9h1V1571.8h1V1570.5h1V1571.1h1V1566.8h1V1571.1h1V1567.6h1V1572.1h1V1568.5h1V1567.0h1V1568.8h1V1575.1h1V1574.4h1V1570.2h1V1574.2h1V1563.4h1V1573.0h1V1574.5h1V1573.1h1V1578.6h1V1571.1h1V1574.5h1V1574.5h1V1576.8h1V1577.9h1V1577.9h1V1578.1h1V1575.6h1V1578.0h1V1561.6h1V1570.9h1V1569.2h1V1569.5h1V1571.8h1V1573.7h1V1563.2h1V1576.5h1V1569.9h1V1572.5h1V1578.0h1V1577.2h1V1583.5h1V1569.1h1V1579.4h1V1576.6h1V1558.3h1V1576.4h1V1569.6h1V1579.0h1V1574.9h1V1575.9h1V1575.4h1V1578.0h1V1581.8h1V1577.9h1V1576.5h1V1579.0h1V1581.3h1V1583.2h1V1588.2h1V1583.5h1V1588.0h1V1585.4h1V1586.5h1V1593.2h1V1581.6h1V1585.2h1V1581.6h1V1585.4h1V1582.3h1V1578.2h1V1579.2h1V1585.2h1V1580.5h1V1581.9h1V1585.3h1V1582.9h1V1582.5h1V1588.8h1V1584.0h1V1588.1h1V1588.0h1V1586.8h1V1584.5h1V1574.0h1V1577.7h1V1576.8h1V1579.9h1V1589.0h1V1582.0h1V1582.3h1V1583.4h1V1586.7h1V1582.7h1V1582.0h1V1582.1h1V1582.1h1V1585.1h1V1588.2h1V1588.3h1V1591.7h1V1591.8h1V1590.2h1V1587.5h1V1580.8h1V1590.0h1V1584.9h1V1586.9h1V1590.1h1V1579.5h1V1591.0h1V1589.3h1V1590.0h1V1589.6h1V1587.6h1V1589.9h1V1589.1h1V1587.8h1V1588.8h1V1595.4h1V1590.6h1V1586.8h1V1585.0h1V1598.4h1V1589.2h1V1588.9h1V1591.1h1V1589.8h1V1583.7h1V1587.6h1V1582.8h1V1586.2h1V1577.6h1V1588.5h1V1591.9h1V1589.1h1V1585.9h1V1579.0h1V1589.2h1V1588.6h1V1582.1h1V1591.8h1V1592.6h1V1593.0h1V1589.4h1V1586.4h1V1589.2h1V1574.5h1V1592.9h1V1591.6h1V1587.1h1V1580.7h1V1594.9h1V1593.4h1V1593.1h1V1591.3h1V1592.7h1V1597.3h1V1597.4h1V1597.7h1V1595.1h1V1597.4h1V1593.0h1V1599.7h1V1592.6h1V1593.5h1V1589.4h1V1588.1h1V1592.2h1V1589.9h1V1592.2h1V1593.8h1V1593.9h1V1594.9h1V1589.7h1V1580.7h1V1594.6h1V1595.1h1V1599.5h1V1593.7h1V1596.2h1V1596.2h1V1595.9h1V1595.8h1V1593.2h1V1593.5h1V1592.3h1V1581.6h1V1590.8h1V1589.6h1V1594.0h1V1594.1h1V1599.3h1V1591.8h1V1595.6h1V1596.6h1V1594.5h1V1602.5h1V1598.3h1V1598.8h1V1597.4h1V1599.9h1V1596.9h1V1591.8h1V1594.6h1V1600.4h1V1600.2h1V1597.5h1V1598.5h1V1597.3h1V1598.6h1V1593.8h1V1628.7 Z" fill="#7a7a7a" shape-rendering="crispEdges"/>
<rect x="313.3" y="1521.8" width="9.4" height="107.4" fill="#000"/>
<path d="M571 1628.7V1558.0h1V1557.2h1V1558.8h1V1560.2h1V1554.3h1V1560.7h1V1552.4h1V1556.7h1V1556.4h1V1552.9h1V1557.5h1V1566.8h1V1562.5h1V1572.3h1V1565.4h1V1570.4h1V1560.1h1V1555.7h1V1571.7h1V1568.2h1V1566.0h1V1570.4h1V1571.1h1V1566.6h1V1558.5h1V1575.9h1V1576.2h1V1575.5h1V1575.3h1V1573.5h1V1577.1h1V1574.9h1V1573.4h1V1572.5h1V1574.2h1V1566.4h1V1569.0h1V1578.7h1V1576.4h1V1577.3h1V1578.5h1V1573.2h1V1573.6h1V1581.4h1V1580.7h1V1576.7h1V1578.2h1V1565.6h1V1577.8h1V1575.1h1V1574.4h1V1567.9h1V1573.4h1V1570.5h1V1572.1h1V1572.6h1V1569.3h1V1570.8h1V1571.3h1V1576.7h1V1560.8h1V1570.3h1V1561.0h1V1577.3h1V1559.4h1V1564.3h1V1570.2h1V1577.3h1V1575.0h1V1574.6h1V1573.5h1V1576.2h1V1573.9h1V1582.3h1V1573.5h1V1578.8h1V1572.6h1V1571.2h1V1573.4h1V1585.7h1V1574.9h1V1583.6h1V1572.5h1V1579.8h1V1590.7h1V1583.8h1V1580.3h1V1586.4h1V1575.1h1V1581.3h1V1575.8h1V1582.1h1V1573.5h1V1581.8h1V1584.2h1V1580.7h1V1572.7h1V1580.6h1V1563.7h1V1575.2h1V1566.8h1V1577.8h1V1577.0h1V1575.8h1V1578.2h1V1581.8h1V1561.7h1V1579.6h1V1578.0h1V1576.1h1V1581.3h1V1566.7h1V1567.4h1V1578.8h1V1571.2h1V1577.0h1V1570.3h1V1573.9h1V1573.8h1V1574.9h1V1583.1h1V1577.1h1V1568.5h1V1583.8h1V1581.8h1V1579.1h1V1583.1h1V1578.6h1V1586.9h1V1576.5h1V1580.3h1V1572.7h1V1583.3h1V1578.9h1V1577.3h1V1573.3h1V1583.6h1V1571.2h1V1579.3h1V1567.2h1V1569.6h1V1574.0h1V1579.3h1V1578.0h1V1579.7h1V1579.1h1V1574.9h1V1572.1h1V1575.2h1V1575.0h1V1572.7h1V1573.3h1V1579.3h1V1572.7h1V1566.8h1V1555.5h1V1581.5h1V1577.0h1V1580.6h1V1574.7h1V1578.6h1V1578.3h1V1575.5h1V1574.9h1V1577.0h1V1584.1h1V1574.6h1V1583.5h1V1577.2h1V1579.0h1V1581.7h1V1576.1h1V1568.4h1V1575.8h1V1578.8h1V1579.7h1V1581.9h1V1576.9h1V1584.7h1V1579.4h1V1581.5h1V1583.4h1V1586.6h1V1585.0h1V1567.7h1V1588.5h1V1591.4h1V1580.3h1V1585.5h1V1569.2h1V1579.6h1V1579.1h1V1577.2h1V1575.7h1V1582.7h1V1579.0h1V1579.8h1V1578.5h1V1581.0h1V1584.3h1V1579.5h1V1581.3h1V1582.2h1V1580.9h1V1575.9h1V1575.8h1V1583.9h1V1582.9h1V1576.5h1V1581.0h1V1584.3h1V1580.2h1V1582.8h1V1575.9h1V1577.2h1V1580.2h1V1574.5h1V1583.2h1V1585.4h1V1581.7h1V1576.5h1V1588.9h1V1585.0h1V1585.3h1V1587.8h1V1577.3h1V1589.8h1V1587.5h1V1577.0h1V1579.0h1V1566.8h1V1585.6h1V1584.4h1V1576.9h1V1591.4h1V1579.1h1V1581.2h1V1579.7h1V1584.5h1V1573.4h1V1584.9h1V1580.9h1V1579.9h1V1584.7h1V1576.1h1V1580.1h1V1583.8h1V1575.7h1V1578.8h1V1585.1h1V1577.3h1V1576.3h1V1566.6h1V1582.6h1V1582.9h1V1574.7h1V1577.9h1V1628.7 Z" fill="#7a7a7a" shape-rendering="crispEdges"/>
<rect x="578.7" y="1522.5" width="9.3" height="106.7" fill="#000"/>
<path d="M302 1733.7V1671.9h1V1670.5h1V1665.8h1V1662.8h1V1665.7h1V1667.4h1V1675.5h1V1645.0h1V1673.7h1V1676.2h1V1667.4h1V1672.3h1V1668.5h1V1665.8h1V1672.1h1V1670.5h1V1680.1h1V1676.7h1V1667.2h1V1676.1h1V1674.4h1V1679.1h1V1677.4h1V1666.4h1V1667.7h1V1669.4h1V1674.8h1V1670.0h1V1674.9h1V1678.8h1V1669.9h1V1688.3h1V1683.5h1V1681.3h1V1674.5h1V1664.3h1V1677.1h1V1650.0h1V1673.7h1V1670.9h1V1685.0h1V1671.0h1V1669.4h1V1682.5h1V1684.3h1V1675.4h1V1680.4h1V1678.1h1V1689.2h1V1667.4h1V1688.7h1V1680.9h1V1684.6h1V1686.8h1V1685.1h1V1678.7h1V1683.9h1V1683.0h1V1675.4h1V1673.0h1V1677.3h1V1653.4h1V1686.4h1V1678.3h1V1683.6h1V1655.2h1V1677.4h1V1686.2h1V1685.9h1V1685.8h1V1687.7h1V1672.4h1V1691.5h1V1679.0h1V1674.1h1V1678.0h1V1662.6h1V1667.2h1V1688.6h1V1676.1h1V1679.3h1V1642.3h1V1681.5h1V1677.5h1V1676.8h1V1680.9h1V1687.4h1V1686.7h1V1683.8h1V1680.0h1V1686.0h1V1692.4h1V1700.8h1V1691.9h1V1690.1h1V1698.3h1V1690.3h1V1689.5h1V1694.3h1V1688.3h1V1686.7h1V1694.1h1V1690.9h1V1702.0h1V1665.5h1V1694.3h1V1692.9h1V1695.4h1V1694.3h1V1700.7h1V1690.6h1V1692.5h1V1697.3h1V1694.6h1V1693.1h1V1693.8h1V1699.0h1V1692.4h1V1691.6h1V1690.8h1V1686.5h1V1684.4h1V1673.7h1V1695.0h1V1689.4h1V1695.6h1V1691.3h1V1692.1h1V1679.0h1V1693.2h1V1695.5h1V1696.1h1V1697.3h1V1695.8h1V1687.7h1V1691.3h1V1698.3h1V1692.4h1V1687.8h1V1695.5h1V1694.1h1V1674.2h1V1688.9h1V1687.5h1V1699.3h1V1701.5h1V1704.3h1V1689.4h1V1693.4h1V1664.1h1V1673.5h1V1691.4h1V1693.2h1V1691.9h1V1696.1h1V1691.6h1V1682.1h1V1679.9h1V1696.1h1V1686.1h1V1681.5h1V1683.4h1V1684.5h1V1689.7h1V1686.2h1V1694.6h1V1694.7h1V1687.8h1V1697.0h1V1692.3h1V1688.8h1V1693.6h1V1692.3h1V1684.8h1V1690.9h1V1695.8h1V1685.2h1V1686.1h1V1691.4h1V1688.7h1V1694.4h1V1690.4h1V1689.9h1V1690.1h1V1698.2h1V1697.7h1V1699.8h1V1705.7h1V1696.6h1V1698.2h1V1706.6h1V1696.1h1V1695.1h1V1689.6h1V1674.0h1V1703.7h1V1712.6h1V1703.9h1V1692.4h1V1691.8h1V1688.8h1V1697.9h1V1692.0h1V1699.0h1V1701.7h1V1684.4h1V1699.6h1V1697.2h1V1691.3h1V1702.0h1V1697.9h1V1694.1h1V1690.4h1V1694.9h1V1687.9h1V1689.1h1V1680.9h1V1711.0h1V1688.3h1V1687.4h1V1698.0h1V1691.0h1V1693.1h1V1697.5h1V1693.0h1V1700.3h1V1678.9h1V1706.2h1V1710.2h1V1706.2h1V1709.1h1V1707.9h1V1700.8h1V1703.7h1V1697.3h1V1705.9h1V1689.1h1V1699.5h1V1689.9h1V1703.1h1V1693.5h1V1678.2h1V1709.8h1V1701.7h1V1699.7h1V1704.5h1V1704.7h1V1695.2h1V1699.5h1V1709.1h1V1692.8h1V1686.9h1V1696.2h1V1687.6h1V1670.2h1V1680.2h1V1733.7 Z" fill="#7a7a7a" shape-rendering="crispEdges"/>
<rect x="313.3" y="1640.5" width="9.4" height="93.7" fill="#000"/>
<path d="M571 1733.7V1649.6h1V1657.3h1V1661.7h1V1664.4h1V1648.3h1V1669.4h1V1663.0h1V1660.0h1V1659.9h1V1661.9h1V1662.9h1V1661.3h1V1658.9h1V1658.9h1V1666.1h1V1667.6h1V1655.9h1V1668.1h1V1660.4h1V1660.0h1V1669.4h1V1661.0h1V1660.4h1V1657.1h1V1662.1h1V1662.9h1V1665.9h1V1661.2h1V1665.0h1V1664.5h1V1664.6h1V1664.0h1V1657.0h1V1664.0h1V1664.4h1V1668.3h1V1666.8h1V1664.3h1V1668.0h1V1660.7h1V1663.4h1V1665.2h1V1668.7h1V1664.6h1V1669.9h1V1665.0h1V1669.0h1V1659.3h1V1668.9h1V1673.9h1V1663.2h1V1660.9h1V1665.5h1V1674.7h1V1672.2h1V1672.3h1V1669.2h1V1670.5h1V1672.3h1V1668.3h1V1677.6h1V1667.4h1V1672.1h1V1670.0h1V1669.6h1V1672.3h1V1673.7h1V1674.1h1V1677.8h1V1677.3h1V1674.9h1V1673.4h1V1676.2h1V1670.5h1V1672.2h1V1672.7h1V1672.5h1V1670.6h1V1671.9h1V1673.4h1V1668.6h1V1672.6h1V1673.9h1V1674.5h1V1674.5h1V1669.1h1V1672.1h1V1673.8h1V1678.8h1V1667.9h1V1672.3h1V1678.4h1V1676.0h1V1680.3h1V1678.4h1V1680.5h1V1673.2h1V1673.3h1V1678.8h1V1678.0h1V1680.0h1V1673.8h1V1673.4h1V1665.8h1V1673.1h1V1678.5h1V1673.5h1V1679.2h1V1665.9h1V1675.6h1V1681.6h1V1679.8h1V1682.6h1V1673.3h1V1676.4h1V1674.5h1V1678.2h1V1673.0h1V1675.0h1V1669.7h1V1674.1h1V1675.4h1V1675.8h1V1675.9h1V1671.2h1V1676.2h1V1672.5h1V1674.5h1V1677.8h1V1680.0h1V1677.7h1V1678.9h1V1676.7h1V1672.6h1V1677.2h1V1680.2h1V1667.9h1V1672.8h1V1676.5h1V1676.6h1V1678.9h1V1677.8h1V1673.7h1V1676.5h1V1667.3h1V1682.5h1V1678.7h1V1680.6h1V1687.9h1V1685.9h1V1680.3h1V1682.9h1V1683.4h1V1679.7h1V1682.2h1V1662.8h1V1676.9h1V1676.0h1V1672.3h1V1677.5h1V1679.3h1V1680.7h1V1675.8h1V1674.5h1V1683.1h1V1679.9h1V1680.6h1V1685.7h1V1686.6h1V1683.2h1V1678.6h1V1681.1h1V1671.7h1V1680.9h1V1678.7h1V1682.9h1V1668.0h1V1676.5h1V1670.7h1V1682.5h1V1678.7h1V1681.7h1V1678.5h1V1683.5h1V1685.7h1V1680.7h1V1679.8h1V1678.0h1V1685.4h1V1683.8h1V1685.3h1V1682.8h1V1684.0h1V1675.4h1V1686.2h1V1680.7h1V1679.7h1V1678.9h1V1682.8h1V1679.2h1V1679.1h1V1678.2h1V1674.4h1V1680.5h1V1678.7h1V1680.2h1V1685.9h1V1685.7h1V1680.3h1V1680.4h1V1681.2h1V1679.0h1V1683.6h1V1679.0h1V1683.1h1V1673.4h1V1668.5h1V1674.9h1V1681.0h1V1679.2h1V1669.3h1V1664.4h1V1682.0h1V1681.8h1V1670.8h1V1678.0h1V1680.7h1V1683.9h1V1686.1h1V1679.1h1V1680.5h1V1685.6h1V1682.0h1V1682.7h1V1682.5h1V1682.3h1V1678.3h1V1683.3h1V1680.9h1V1683.3h1V1683.1h1V1680.4h1V1683.0h1V1683.9h1V1685.4h1V1684.9h1V1683.6h1V1682.4h1V1685.6h1V1669.6h1V1677.3h1V1679.1h1V1676.2h1V1679.6h1V1678.9h1V1682.1h1V1677.3h1V1733.7 Z" fill="#7a7a7a" shape-rendering="crispEdges"/>
<rect x="578.7" y="1641.5" width="9.3" height="92.7" fill="#000"/>
<text x="428.5" y="1555" font-size="32" text-anchor="middle">sham + CTL</text>
<text x="710" y="1555" font-size="32" text-anchor="middle">sham + <tspan font-family="'Liberation Serif', serif" font-size="108%">β</tspan>-EUD</text>
<text x="432.5" y="1658" font-size="32" text-anchor="middle">vag + CTL</text>
<text x="708" y="1658" font-size="32" text-anchor="middle">vag + <tspan font-family="'Liberation Serif', serif" font-size="108%">β</tspan>-EUD</text>
<text x="304" y="1760" font-size="26">0 min</text>
<text x="561" y="1760" font-size="26" text-anchor="end">90 min</text>
<text x="576" y="1760" font-size="26">0 min</text>
<text x="832.5" y="1760" font-size="26" text-anchor="end">90 min</text>
<line x1="179" y1="1670.45" x2="179" y2="2174.05" stroke="#111" stroke-width="3.5" stroke-linecap="butt"/>
<line x1="177.25" y1="2172.3" x2="839.55" y2="2172.3" stroke="#111" stroke-width="3.5" stroke-linecap="butt"/>
<line x1="179" y1="2088.95" x2="188.5" y2="2088.95" stroke="#111" stroke-width="3.5" stroke-linecap="butt"/>
<line x1="179" y1="2005.6" x2="188.5" y2="2005.6" stroke="#111" stroke-width="3.5" stroke-linecap="butt"/>
<line x1="179" y1="1922.25" x2="188.5" y2="1922.25" stroke="#111" stroke-width="3.5" stroke-linecap="butt"/>
<line x1="179" y1="1838.9" x2="188.5" y2="1838.9" stroke="#111" stroke-width="3.5" stroke-linecap="butt"/>
<line x1="179" y1="1755.55" x2="188.5" y2="1755.55" stroke="#111" stroke-width="3.5" stroke-linecap="butt"/>
<line x1="179" y1="1672.2" x2="188.5" y2="1672.2" stroke="#111" stroke-width="3.5" stroke-linecap="butt"/>
<line x1="252.2" y1="2172.3" x2="252.2" y2="2162.8" stroke="#111" stroke-width="3.5" stroke-linecap="butt"/>
<line x1="325.4" y1="2172.3" x2="325.4" y2="2162.8" stroke="#111" stroke-width="3.5" stroke-linecap="butt"/>
<line x1="398.6" y1="2172.3" x2="398.6" y2="2162.8" stroke="#111" stroke-width="3.5" stroke-linecap="butt"/>
<line x1="471.8" y1="2172.3" x2="471.8" y2="2162.8" stroke="#111" stroke-width="3.5" stroke-linecap="butt"/>
<line x1="545" y1="2172.3" x2="545" y2="2162.8" stroke="#111" stroke-width="3.5" stroke-linecap="butt"/>
<line x1="618.2" y1="2172.3" x2="618.2" y2="2162.8" stroke="#111" stroke-width="3.5" stroke-linecap="butt"/>
<line x1="691.4" y1="2172.3" x2="691.4" y2="2162.8" stroke="#111" stroke-width="3.5" stroke-linecap="butt"/>
<line x1="764.6" y1="2172.3" x2="764.6" y2="2162.8" stroke="#111" stroke-width="3.5" stroke-linecap="butt"/>
<line x1="837.8" y1="2172.3" x2="837.8" y2="2162.8" stroke="#111" stroke-width="3.5" stroke-linecap="butt"/>
<text x="152.5" y="2182" font-size="32" text-anchor="end">0</text>
<text x="152.5" y="2098.65" font-size="32" text-anchor="end">20</text>
<text x="152.5" y="2015.3" font-size="32" text-anchor="end">40</text>
<text x="152.5" y="1931.95" font-size="32" text-anchor="end">60</text>
<text x="152.5" y="1848.6" font-size="32" text-anchor="end">80</text>
<text x="152.5" y="1765.25" font-size="32" text-anchor="end">100</text>
<text x="152.5" y="1681.9" font-size="32" text-anchor="end">120</text>
<text x="179" y="2219.6" font-size="32" text-anchor="middle">0</text>
<text x="252.2" y="2219.6" font-size="32" text-anchor="middle">10</text>
<text x="325.4" y="2219.6" font-size="32" text-anchor="middle">20</text>
<text x="398.6" y="2219.6" font-size="32" text-anchor="middle">30</text>
<text x="471.8" y="2219.6" font-size="32" text-anchor="middle">40</text>
<text x="545" y="2219.6" font-size="32" text-anchor="middle">50</text>
<text x="618.2" y="2219.6" font-size="32" text-anchor="middle">60</text>
<text x="691.4" y="2219.6" font-size="32" text-anchor="middle">70</text>
<text x="764.6" y="2219.6" font-size="32" text-anchor="middle">80</text>
<text x="837.8" y="2219.6" font-size="32" text-anchor="middle">90</text>
<polyline points="179,1755.75 215.6,1783.75 252.2,1802.5 288.8,1820 325.4,1835 362,1858.75 398.6,1867.5 435.2,1880 471.8,1900 508.4,1928.75 545,1932.5 581.6,1951.25 618.2,1970 654.8,1970 691.4,1981.25 728,1992.5 764.6,1991.25 801.2,1998.75 837.8,2005" fill="none" stroke="#111" stroke-width="3.4" stroke-linejoin="round"/>
<path d="M215.6 1773.75V1793.75M209.35 1773.75H221.85M209.35 1793.75H221.85" fill="none" stroke="#111" stroke-width="2.9"/>
<path d="M252.2 1790.5V1814.5M245.95 1790.5H258.45M245.95 1814.5H258.45" fill="none" stroke="#111" stroke-width="2.9"/>
<path d="M288.8 1806V1834M282.55 1806H295.05M282.55 1834H295.05" fill="none" stroke="#111" stroke-width="2.9"/>
<path d="M325.4 1819V1851M319.15 1819H331.65M319.15 1851H331.65" fill="none" stroke="#111" stroke-width="2.9"/>
<path d="M362 1838.75V1878.75M355.75 1838.75H368.25M355.75 1878.75H368.25" fill="none" stroke="#111" stroke-width="2.9"/>
<path d="M398.6 1845.5V1889.5M392.35 1845.5H404.85M392.35 1889.5H404.85" fill="none" stroke="#111" stroke-width="2.9"/>
<path d="M435.2 1856V1904M428.95 1856H441.45M428.95 1904H441.45" fill="none" stroke="#111" stroke-width="2.9"/>
<path d="M471.8 1874V1926M465.55 1874H478.05M465.55 1926H478.05" fill="none" stroke="#111" stroke-width="2.9"/>
<path d="M508.4 1900.75V1956.75M502.15 1900.75H514.65M502.15 1956.75H514.65" fill="none" stroke="#111" stroke-width="2.9"/>
<path d="M545 1904.5V1960.5M538.75 1904.5H551.25M538.75 1960.5H551.25" fill="none" stroke="#111" stroke-width="2.9"/>
<path d="M581.6 1921.25V1981.25M575.35 1921.25H587.85M575.35 1981.25H587.85" fill="none" stroke="#111" stroke-width="2.9"/>
<path d="M618.2 1938V2002M611.95 1938H624.45M611.95 2002H624.45" fill="none" stroke="#111" stroke-width="2.9"/>
<path d="M654.8 1936V2004M648.55 1936H661.05M648.55 2004H661.05" fill="none" stroke="#111" stroke-width="2.9"/>
<path d="M691.4 1945.25V2017.25M685.15 1945.25H697.65M685.15 2017.25H697.65" fill="none" stroke="#111" stroke-width="2.9"/>
<path d="M728 1954.5V2030.5M721.75 1954.5H734.25M721.75 2030.5H734.25" fill="none" stroke="#111" stroke-width="2.9"/>
<path d="M764.6 1951.25V2031.25M758.35 1951.25H770.85M758.35 2031.25H770.85" fill="none" stroke="#111" stroke-width="2.9"/>
<path d="M801.2 1956.75V2040.75M794.95 1956.75H807.45M794.95 2040.75H807.45" fill="none" stroke="#111" stroke-width="2.9"/>
<path d="M837.8 1961V2049M831.55 1961H844.05M831.55 2049H844.05" fill="none" stroke="#111" stroke-width="2.9"/>
<path d="M179.00 1744.90L189.60 1765.95L168.40 1765.95Z" fill="#111" stroke="#111" stroke-width="2.1" stroke-linejoin="miter"/>
<path d="M215.60 1772.90L226.20 1793.95L205.00 1793.95Z" fill="#111" stroke="#111" stroke-width="2.1" stroke-linejoin="miter"/>
<path d="M252.20 1791.65L262.80 1812.70L241.60 1812.70Z" fill="#111" stroke="#111" stroke-width="2.1" stroke-linejoin="miter"/>
<path d="M288.80 1809.15L299.40 1830.20L278.20 1830.20Z" fill="#111" stroke="#111" stroke-width="2.1" stroke-linejoin="miter"/>
<path d="M325.40 1824.15L336.00 1845.20L314.80 1845.20Z" fill="#111" stroke="#111" stroke-width="2.1" stroke-linejoin="miter"/>
<path d="M362.00 1847.90L372.60 1868.95L351.40 1868.95Z" fill="#111" stroke="#111" stroke-width="2.1" stroke-linejoin="miter"/>
<path d="M398.60 1856.65L409.20 1877.70L388.00 1877.70Z" fill="#111" stroke="#111" stroke-width="2.1" stroke-linejoin="miter"/>
<path d="M435.20 1869.15L445.80 1890.20L424.60 1890.20Z" fill="#111" stroke="#111" stroke-width="2.1" stroke-linejoin="miter"/>
<path d="M471.80 1889.15L482.40 1910.20L461.20 1910.20Z" fill="#111" stroke="#111" stroke-width="2.1" stroke-linejoin="miter"/>
<path d="M508.40 1917.90L519.00 1938.95L497.80 1938.95Z" fill="#111" stroke="#111" stroke-width="2.1" stroke-linejoin="miter"/>
<path d="M545.00 1921.65L555.60 1942.70L534.40 1942.70Z" fill="#111" stroke="#111" stroke-width="2.1" stroke-linejoin="miter"/>
<path d="M581.60 1940.40L592.20 1961.45L571.00 1961.45Z" fill="#111" stroke="#111" stroke-width="2.1" stroke-linejoin="miter"/>
<path d="M618.20 1959.15L628.80 1980.20L607.60 1980.20Z" fill="#111" stroke="#111" stroke-width="2.1" stroke-linejoin="miter"/>
<path d="M654.80 1959.15L665.40 1980.20L644.20 1980.20Z" fill="#111" stroke="#111" stroke-width="2.1" stroke-linejoin="miter"/>
<path d="M691.40 1970.40L702.00 1991.45L680.80 1991.45Z" fill="#111" stroke="#111" stroke-width="2.1" stroke-linejoin="miter"/>
<path d="M728.00 1981.65L738.60 2002.70L717.40 2002.70Z" fill="#111" stroke="#111" stroke-width="2.1" stroke-linejoin="miter"/>
<path d="M764.60 1980.40L775.20 2001.45L754.00 2001.45Z" fill="#111" stroke="#111" stroke-width="2.1" stroke-linejoin="miter"/>
<path d="M801.20 1987.90L811.80 2008.95L790.60 2008.95Z" fill="#111" stroke="#111" stroke-width="2.1" stroke-linejoin="miter"/>
<path d="M837.80 1994.15L848.40 2015.20L827.20 2015.20Z" fill="#111" stroke="#111" stroke-width="2.1" stroke-linejoin="miter"/>
<polyline points="179,1755.75 215.6,1780 252.2,1800 288.8,1811.25 325.4,1845 362,1858.75 398.6,1861.25 435.2,1877.5 471.8,1887 508.4,1880 545,1871.75 581.6,1875.5 618.2,1886.25 654.8,1889.25 691.4,1905 728,1937.5 764.6,1931.25 801.2,1930 837.8,1948.25" fill="none" stroke="#111" stroke-width="3.4" stroke-linejoin="round"/>
<path d="M215.6 1768V1792M209.35 1768H221.85M209.35 1792H221.85" fill="none" stroke="#111" stroke-width="2.9"/>
<path d="M252.2 1787V1813M245.95 1787H258.45M245.95 1813H258.45" fill="none" stroke="#111" stroke-width="2.9"/>
<path d="M288.8 1797.25V1825.25M282.55 1797.25H295.05M282.55 1825.25H295.05" fill="none" stroke="#111" stroke-width="2.9"/>
<path d="M325.4 1831V1859M319.15 1831H331.65M319.15 1859H331.65" fill="none" stroke="#111" stroke-width="2.9"/>
<path d="M362 1841.75V1875.75M355.75 1841.75H368.25M355.75 1875.75H368.25" fill="none" stroke="#111" stroke-width="2.9"/>
<path d="M398.6 1843.25V1879.25M392.35 1843.25H404.85M392.35 1879.25H404.85" fill="none" stroke="#111" stroke-width="2.9"/>
<path d="M435.2 1855.5V1899.5M428.95 1855.5H441.45M428.95 1899.5H441.45" fill="none" stroke="#111" stroke-width="2.9"/>
<path d="M471.8 1859V1915M465.55 1859H478.05M465.55 1915H478.05" fill="none" stroke="#111" stroke-width="2.9"/>
<path d="M508.4 1849V1911M502.15 1849H514.65M502.15 1911H514.65" fill="none" stroke="#111" stroke-width="2.9"/>
<path d="M545 1835.75V1907.75M538.75 1835.75H551.25M538.75 1907.75H551.25" fill="none" stroke="#111" stroke-width="2.9"/>
<path d="M581.6 1835.5V1915.5M575.35 1835.5H587.85M575.35 1915.5H587.85" fill="none" stroke="#111" stroke-width="2.9"/>
<path d="M618.2 1850.25V1922.25M611.95 1850.25H624.45M611.95 1922.25H624.45" fill="none" stroke="#111" stroke-width="2.9"/>
<path d="M654.8 1855.25V1923.25M648.55 1855.25H661.05M648.55 1923.25H661.05" fill="none" stroke="#111" stroke-width="2.9"/>
<path d="M691.4 1871V1939M685.15 1871H697.65M685.15 1939H697.65" fill="none" stroke="#111" stroke-width="2.9"/>
<path d="M728 1901.5V1973.5M721.75 1901.5H734.25M721.75 1973.5H734.25" fill="none" stroke="#111" stroke-width="2.9"/>
<path d="M764.6 1895.25V1967.25M758.35 1895.25H770.85M758.35 1967.25H770.85" fill="none" stroke="#111" stroke-width="2.9"/>
<path d="M801.2 1894V1966M794.95 1894H807.45M794.95 1966H807.45" fill="none" stroke="#111" stroke-width="2.9"/>
<path d="M837.8 1910.25V1986.25M831.55 1910.25H844.05M831.55 1986.25H844.05" fill="none" stroke="#111" stroke-width="2.9"/>
<circle cx="179" cy="1755.75" r="10.476" fill="#111" stroke="#111" stroke-width="2.2"/>
<circle cx="215.6" cy="1780" r="10.476" fill="#111" stroke="#111" stroke-width="2.2"/>
<circle cx="252.2" cy="1800" r="10.476" fill="#111" stroke="#111" stroke-width="2.2"/>
<circle cx="288.8" cy="1811.25" r="10.476" fill="#111" stroke="#111" stroke-width="2.2"/>
<circle cx="325.4" cy="1845" r="10.476" fill="#111" stroke="#111" stroke-width="2.2"/>
<circle cx="362" cy="1858.75" r="10.476" fill="#111" stroke="#111" stroke-width="2.2"/>
<circle cx="398.6" cy="1861.25" r="10.476" fill="#111" stroke="#111" stroke-width="2.2"/>
<circle cx="435.2" cy="1877.5" r="10.476" fill="#111" stroke="#111" stroke-width="2.2"/>
<circle cx="471.8" cy="1887" r="10.476" fill="#111" stroke="#111" stroke-width="2.2"/>
<circle cx="508.4" cy="1880" r="10.476" fill="#111" stroke="#111" stroke-width="2.2"/>
<circle cx="545" cy="1871.75" r="10.476" fill="#111" stroke="#111" stroke-width="2.2"/>
<circle cx="581.6" cy="1875.5" r="10.476" fill="#111" stroke="#111" stroke-width="2.2"/>
<circle cx="618.2" cy="1886.25" r="10.476" fill="#111" stroke="#111" stroke-width="2.2"/>
<circle cx="654.8" cy="1889.25" r="10.476" fill="#111" stroke="#111" stroke-width="2.2"/>
<circle cx="691.4" cy="1905" r="10.476" fill="#111" stroke="#111" stroke-width="2.2"/>
<circle cx="728" cy="1937.5" r="10.476" fill="#111" stroke="#111" stroke-width="2.2"/>
<circle cx="764.6" cy="1931.25" r="10.476" fill="#111" stroke="#111" stroke-width="2.2"/>
<circle cx="801.2" cy="1930" r="10.476" fill="#111" stroke="#111" stroke-width="2.2"/>
<circle cx="837.8" cy="1948.25" r="10.476" fill="#111" stroke="#111" stroke-width="2.2"/>
<polyline points="179,1758.75 215.6,1801.25 252.2,1815 288.8,1841.25 325.4,1806.5 362,1842.5 398.6,1880 435.2,1920 471.8,1928.75 508.4,1950 545,1936.25 581.6,1966.25 618.2,2000 654.8,2010.5 691.4,2018.75 728,2043 764.6,2046.75 801.2,2050 837.8,2058.75" fill="none" stroke="#111" stroke-width="3.4" stroke-linejoin="round"/>
<path d="M215.6 1790.25V1812.25M209.35 1790.25H221.85M209.35 1812.25H221.85" fill="none" stroke="#111" stroke-width="2.9"/>
<path d="M252.2 1802V1828M245.95 1802H258.45M245.95 1828H258.45" fill="none" stroke="#111" stroke-width="2.9"/>
<path d="M288.8 1826.25V1856.25M282.55 1826.25H295.05M282.55 1856.25H295.05" fill="none" stroke="#111" stroke-width="2.9"/>
<path d="M325.4 1788.5V1824.5M319.15 1788.5H331.65M319.15 1824.5H331.65" fill="none" stroke="#111" stroke-width="2.9"/>
<path d="M362 1822.5V1862.5M355.75 1822.5H368.25M355.75 1862.5H368.25" fill="none" stroke="#111" stroke-width="2.9"/>
<path d="M398.6 1858V1902M392.35 1858H404.85M392.35 1902H404.85" fill="none" stroke="#111" stroke-width="2.9"/>
<path d="M435.2 1899V1941M428.95 1899H441.45M428.95 1941H441.45" fill="none" stroke="#111" stroke-width="2.9"/>
<path d="M471.8 1908.75V1948.75M465.55 1908.75H478.05M465.55 1948.75H478.05" fill="none" stroke="#111" stroke-width="2.9"/>
<path d="M508.4 1929V1971M502.15 1929H514.65M502.15 1971H514.65" fill="none" stroke="#111" stroke-width="2.9"/>
<path d="M545 1912.25V1960.25M538.75 1912.25H551.25M538.75 1960.25H551.25" fill="none" stroke="#111" stroke-width="2.9"/>
<path d="M581.6 1939.25V1993.25M575.35 1939.25H587.85M575.35 1993.25H587.85" fill="none" stroke="#111" stroke-width="2.9"/>
<path d="M618.2 1972V2028M611.95 1972H624.45M611.95 2028H624.45" fill="none" stroke="#111" stroke-width="2.9"/>
<path d="M654.8 1974.5V2046.5M648.55 1974.5H661.05M648.55 2046.5H661.05" fill="none" stroke="#111" stroke-width="2.9"/>
<path d="M691.4 1980.75V2056.75M685.15 1980.75H697.65M685.15 2056.75H697.65" fill="none" stroke="#111" stroke-width="2.9"/>
<path d="M728 2019V2067M721.75 2019H734.25M721.75 2067H734.25" fill="none" stroke="#111" stroke-width="2.9"/>
<path d="M764.6 2015.75V2077.75M758.35 2015.75H770.85M758.35 2077.75H770.85" fill="none" stroke="#111" stroke-width="2.9"/>
<path d="M801.2 2018V2082M794.95 2018H807.45M794.95 2082H807.45" fill="none" stroke="#111" stroke-width="2.9"/>
<path d="M837.8 2027.75V2089.75M831.55 2027.75H844.05M831.55 2089.75H844.05" fill="none" stroke="#111" stroke-width="2.9"/>
<path d="M179.00 1747.90L189.60 1768.95L168.40 1768.95Z" fill="#fff" stroke="#111" stroke-width="2.1" stroke-linejoin="miter"/>
<path d="M215.60 1790.40L226.20 1811.45L205.00 1811.45Z" fill="#fff" stroke="#111" stroke-width="2.1" stroke-linejoin="miter"/>
<path d="M252.20 1804.15L262.80 1825.20L241.60 1825.20Z" fill="#fff" stroke="#111" stroke-width="2.1" stroke-linejoin="miter"/>
<path d="M288.80 1830.40L299.40 1851.45L278.20 1851.45Z" fill="#fff" stroke="#111" stroke-width="2.1" stroke-linejoin="miter"/>
<path d="M325.40 1795.65L336.00 1816.70L314.80 1816.70Z" fill="#fff" stroke="#111" stroke-width="2.1" stroke-linejoin="miter"/>
<path d="M362.00 1831.65L372.60 1852.70L351.40 1852.70Z" fill="#fff" stroke="#111" stroke-width="2.1" stroke-linejoin="miter"/>
<path d="M398.60 1869.15L409.20 1890.20L388.00 1890.20Z" fill="#fff" stroke="#111" stroke-width="2.1" stroke-linejoin="miter"/>
<path d="M435.20 1909.15L445.80 1930.20L424.60 1930.20Z" fill="#fff" stroke="#111" stroke-width="2.1" stroke-linejoin="miter"/>
<path d="M471.80 1917.90L482.40 1938.95L461.20 1938.95Z" fill="#fff" stroke="#111" stroke-width="2.1" stroke-linejoin="miter"/>
<path d="M508.40 1939.15L519.00 1960.20L497.80 1960.20Z" fill="#fff" stroke="#111" stroke-width="2.1" stroke-linejoin="miter"/>
<path d="M545.00 1925.40L555.60 1946.45L534.40 1946.45Z" fill="#fff" stroke="#111" stroke-width="2.1" stroke-linejoin="miter"/>
<path d="M581.60 1955.40L592.20 1976.45L571.00 1976.45Z" fill="#fff" stroke="#111" stroke-width="2.1" stroke-linejoin="miter"/>
<path d="M618.20 1989.15L628.80 2010.20L607.60 2010.20Z" fill="#fff" stroke="#111" stroke-width="2.1" stroke-linejoin="miter"/>
<path d="M654.80 1999.65L665.40 2020.70L644.20 2020.70Z" fill="#fff" stroke="#111" stroke-width="2.1" stroke-linejoin="miter"/>
<path d="M691.40 2007.90L702.00 2028.95L680.80 2028.95Z" fill="#fff" stroke="#111" stroke-width="2.1" stroke-linejoin="miter"/>
<path d="M728.00 2032.15L738.60 2053.20L717.40 2053.20Z" fill="#fff" stroke="#111" stroke-width="2.1" stroke-linejoin="miter"/>
<path d="M764.60 2035.90L775.20 2056.95L754.00 2056.95Z" fill="#fff" stroke="#111" stroke-width="2.1" stroke-linejoin="miter"/>
<path d="M801.20 2039.15L811.80 2060.20L790.60 2060.20Z" fill="#fff" stroke="#111" stroke-width="2.1" stroke-linejoin="miter"/>
<path d="M837.80 2047.90L848.40 2068.95L827.20 2068.95Z" fill="#fff" stroke="#111" stroke-width="2.1" stroke-linejoin="miter"/>
<polyline points="179,1755.75 215.6,1750 252.2,1768.75 288.8,1787 325.4,1800.5 362,1828 398.6,1847.5 435.2,1863.75 471.8,1887 508.4,1894.25 545,1902.5 581.6,1901.25 618.2,1912.5 654.8,1916.25 691.4,1905 728,1906.25 764.6,1916.25 801.2,1913.75 837.8,1915.5" fill="none" stroke="#111" stroke-width="3.4" stroke-linejoin="round"/>
<path d="M215.6 1735V1765M209.35 1735H221.85M209.35 1765H221.85" fill="none" stroke="#111" stroke-width="2.9"/>
<path d="M252.2 1754.75V1782.75M245.95 1754.75H258.45M245.95 1782.75H258.45" fill="none" stroke="#111" stroke-width="2.9"/>
<path d="M288.8 1771V1803M282.55 1771H295.05M282.55 1803H295.05" fill="none" stroke="#111" stroke-width="2.9"/>
<path d="M325.4 1773.5V1827.5M319.15 1773.5H331.65M319.15 1827.5H331.65" fill="none" stroke="#111" stroke-width="2.9"/>
<path d="M362 1797V1859M355.75 1797H368.25M355.75 1859H368.25" fill="none" stroke="#111" stroke-width="2.9"/>
<path d="M398.6 1826.5V1868.5M392.35 1826.5H404.85M392.35 1868.5H404.85" fill="none" stroke="#111" stroke-width="2.9"/>
<path d="M435.2 1843.75V1883.75M428.95 1843.75H441.45M428.95 1883.75H441.45" fill="none" stroke="#111" stroke-width="2.9"/>
<path d="M471.8 1856V1918M465.55 1856H478.05M465.55 1918H478.05" fill="none" stroke="#111" stroke-width="2.9"/>
<path d="M508.4 1864.25V1924.25M502.15 1864.25H514.65M502.15 1924.25H514.65" fill="none" stroke="#111" stroke-width="2.9"/>
<path d="M545 1872.5V1932.5M538.75 1872.5H551.25M538.75 1932.5H551.25" fill="none" stroke="#111" stroke-width="2.9"/>
<path d="M581.6 1871.25V1931.25M575.35 1871.25H587.85M575.35 1931.25H587.85" fill="none" stroke="#111" stroke-width="2.9"/>
<path d="M618.2 1880.5V1944.5M611.95 1880.5H624.45M611.95 1944.5H624.45" fill="none" stroke="#111" stroke-width="2.9"/>
<path d="M654.8 1882.25V1950.25M648.55 1882.25H661.05M648.55 1950.25H661.05" fill="none" stroke="#111" stroke-width="2.9"/>
<path d="M691.4 1866V1944M685.15 1866H697.65M685.15 1944H697.65" fill="none" stroke="#111" stroke-width="2.9"/>
<path d="M728 1879.25V1933.25M721.75 1879.25H734.25M721.75 1933.25H734.25" fill="none" stroke="#111" stroke-width="2.9"/>
<path d="M764.6 1886.25V1946.25M758.35 1886.25H770.85M758.35 1946.25H770.85" fill="none" stroke="#111" stroke-width="2.9"/>
<path d="M801.2 1884.75V1942.75M794.95 1884.75H807.45M794.95 1942.75H807.45" fill="none" stroke="#111" stroke-width="2.9"/>
<path d="M837.8 1887.5V1943.5M831.55 1887.5H844.05M831.55 1943.5H844.05" fill="none" stroke="#111" stroke-width="2.9"/>
<circle cx="179" cy="1755.75" r="9.828" fill="#fff" stroke="#111" stroke-width="2.4"/>
<circle cx="215.6" cy="1750" r="9.828" fill="#fff" stroke="#111" stroke-width="2.4"/>
<circle cx="252.2" cy="1768.75" r="9.828" fill="#fff" stroke="#111" stroke-width="2.4"/>
<circle cx="288.8" cy="1787" r="9.828" fill="#fff" stroke="#111" stroke-width="2.4"/>
<circle cx="325.4" cy="1800.5" r="9.828" fill="#fff" stroke="#111" stroke-width="2.4"/>
<circle cx="362" cy="1828" r="9.828" fill="#fff" stroke="#111" stroke-width="2.4"/>
<circle cx="398.6" cy="1847.5" r="9.828" fill="#fff" stroke="#111" stroke-width="2.4"/>
<circle cx="435.2" cy="1863.75" r="9.828" fill="#fff" stroke="#111" stroke-width="2.4"/>
<circle cx="471.8" cy="1887" r="9.828" fill="#fff" stroke="#111" stroke-width="2.4"/>
<circle cx="508.4" cy="1894.25" r="9.828" fill="#fff" stroke="#111" stroke-width="2.4"/>
<circle cx="545" cy="1902.5" r="9.828" fill="#fff" stroke="#111" stroke-width="2.4"/>
<circle cx="581.6" cy="1901.25" r="9.828" fill="#fff" stroke="#111" stroke-width="2.4"/>
<circle cx="618.2" cy="1912.5" r="9.828" fill="#fff" stroke="#111" stroke-width="2.4"/>
<circle cx="654.8" cy="1916.25" r="9.828" fill="#fff" stroke="#111" stroke-width="2.4"/>
<circle cx="691.4" cy="1905" r="9.828" fill="#fff" stroke="#111" stroke-width="2.4"/>
<circle cx="728" cy="1906.25" r="9.828" fill="#fff" stroke="#111" stroke-width="2.4"/>
<circle cx="764.6" cy="1916.25" r="9.828" fill="#fff" stroke="#111" stroke-width="2.4"/>
<circle cx="801.2" cy="1913.75" r="9.828" fill="#fff" stroke="#111" stroke-width="2.4"/>
<circle cx="837.8" cy="1915.5" r="9.828" fill="#fff" stroke="#111" stroke-width="2.4"/>
<line x1="209.8" y1="1986.5" x2="261.1" y2="1986.5" stroke="#111" stroke-width="3.2" stroke-linecap="butt"/>
<path d="M235.80 1978.10L244.49 1995.36L227.11 1995.36Z" fill="#111" stroke="#111" stroke-width="2" stroke-linejoin="miter"/>
<text x="265" y="1995.7" font-size="32">sham + CTL</text>
<line x1="209.8" y1="2028.1" x2="261.1" y2="2028.1" stroke="#111" stroke-width="3.2" stroke-linecap="butt"/>
<circle cx="235.8" cy="2028.1" r="8.1" fill="#111" stroke="#111" stroke-width="2.2"/>
<text x="265" y="2037.3" font-size="32">sham + <tspan font-family="'Liberation Serif', serif" font-size="108%">β</tspan>-EUD</text>
<line x1="209.8" y1="2069.7" x2="261.1" y2="2069.7" stroke="#111" stroke-width="3.2" stroke-linecap="butt"/>
<path d="M235.80 2061.30L244.49 2078.56L227.11 2078.56Z" fill="#fff" stroke="#111" stroke-width="2" stroke-linejoin="miter"/>
<text x="265" y="2078.9" font-size="32">vag + CTL</text>
<line x1="209.8" y1="2111.3" x2="261.1" y2="2111.3" stroke="#111" stroke-width="3.2" stroke-linecap="butt"/>
<circle cx="235.8" cy="2111.3" r="8.1" fill="#fff" stroke="#111" stroke-width="2.4"/>
<text x="265" y="2120.5" font-size="32">vag + <tspan font-family="'Liberation Serif', serif" font-size="108%">β</tspan>-EUD</text>
<text x="0" y="0" font-size="52" text-anchor="middle" transform="translate(68.5 1914.3) rotate(-90) scale(0.95 1)">GVNA (%)</text>
<text x="522.5" y="2280.5" font-size="50" text-anchor="middle">Time (min.)</text>
<rect x="1027.5" y="389" width="107" height="343.3" fill="#373737" stroke="#111" stroke-width="3.3"/>
<path d="M1081 389V330M1075 330H1087" fill="none" stroke="#111" stroke-width="3.2"/>
<rect x="1186.5" y="266.5" width="107" height="465.8" fill="#373737" stroke="#111" stroke-width="3.3"/>
<path d="M1240 266.5V251M1234 251H1246" fill="none" stroke="#111" stroke-width="3.2"/>
<rect x="1345" y="426.5" width="106.5" height="305.8" fill="#fff" stroke="#111" stroke-width="3.3"/>
<path d="M1398 426.5V358.5M1392 358.5H1404" fill="none" stroke="#111" stroke-width="3.2"/>
<rect x="1503.5" y="398.5" width="107" height="333.8" fill="#fff" stroke="#111" stroke-width="3.3"/>
<path d="M1557 398.5V337M1551 337H1563" fill="none" stroke="#111" stroke-width="3.2"/>
<line x1="1002" y1="178.55" x2="1002" y2="734.05" stroke="#111" stroke-width="3.5" stroke-linecap="butt"/>
<line x1="1000.25" y1="732.3" x2="1638" y2="732.3" stroke="#111" stroke-width="3.5" stroke-linecap="butt"/>
<line x1="1002" y1="640.3" x2="1012" y2="640.3" stroke="#111" stroke-width="3.5" stroke-linecap="butt"/>
<line x1="1002" y1="548.3" x2="1012" y2="548.3" stroke="#111" stroke-width="3.5" stroke-linecap="butt"/>
<line x1="1002" y1="456.3" x2="1012" y2="456.3" stroke="#111" stroke-width="3.5" stroke-linecap="butt"/>
<line x1="1002" y1="364.3" x2="1012" y2="364.3" stroke="#111" stroke-width="3.5" stroke-linecap="butt"/>
<line x1="1002" y1="272.3" x2="1012" y2="272.3" stroke="#111" stroke-width="3.5" stroke-linecap="butt"/>
<line x1="1002" y1="180.3" x2="1012" y2="180.3" stroke="#111" stroke-width="3.5" stroke-linecap="butt"/>
<line x1="1161" y1="732.3" x2="1161" y2="723.3" stroke="#111" stroke-width="3.3" stroke-linecap="butt"/>
<line x1="1319" y1="732.3" x2="1319" y2="723.3" stroke="#111" stroke-width="3.3" stroke-linecap="butt"/>
<line x1="1477" y1="732.3" x2="1477" y2="723.3" stroke="#111" stroke-width="3.3" stroke-linecap="butt"/>
<line x1="1636" y1="732.3" x2="1636" y2="723.3" stroke="#111" stroke-width="3.3" stroke-linecap="butt"/>
<text x="976" y="742" font-size="32" text-anchor="end">0</text>
<text x="978.5" y="650" font-size="32" text-anchor="end">20</text>
<text x="978.5" y="558" font-size="32" text-anchor="end">40</text>
<text x="978.5" y="466" font-size="32" text-anchor="end">60</text>
<text x="978.5" y="374" font-size="32" text-anchor="end">80</text>
<text x="978.5" y="282" font-size="32" text-anchor="end">100</text>
<text x="978.5" y="190" font-size="32" text-anchor="end">120</text>
<line x1="1064" y1="101" x2="1559" y2="101" stroke="#111" stroke-width="3.2" stroke-linecap="butt"/>
<text x="1312" y="90.3" font-size="38.5" text-anchor="middle" letter-spacing="0.7">n.s.</text>
<line x1="1241" y1="140.5" x2="1556" y2="140.5" stroke="#111" stroke-width="3.2" stroke-linecap="butt"/>
<text x="1398" y="140.7" font-size="54" text-anchor="middle" font-family="IPAGothic, 'Liberation Serif', serif" style="stroke:none">**</text>
<line x1="1073" y1="189" x2="1411" y2="189" stroke="#111" stroke-width="3.2" stroke-linecap="butt"/>
<text x="1246" y="178.3" font-size="38.5" text-anchor="middle" letter-spacing="0.7">n.s.</text>
<line x1="1079.5" y1="233.5" x2="1226" y2="233.5" stroke="#111" stroke-width="3.2" stroke-linecap="butt"/>
<text x="1150.5" y="231.7" font-size="54" text-anchor="middle" font-family="IPAGothic, 'Liberation Serif', serif" style="stroke:none">**</text>
<line x1="1253" y1="233.5" x2="1399.5" y2="233.5" stroke="#111" stroke-width="3.2" stroke-linecap="butt"/>
<text x="1320" y="231.7" font-size="54" text-anchor="middle" font-family="IPAGothic, 'Liberation Serif', serif" style="stroke:none">**</text>
<line x1="1399.5" y1="310" x2="1546" y2="310" stroke="#111" stroke-width="3.2" stroke-linecap="butt"/>
<text x="1478" y="300.3" font-size="38.5" text-anchor="middle" letter-spacing="0.7">n.s.</text>
<text x="1099.5" y="783.5" font-size="40" text-anchor="middle">CTL</text>
<text x="1245.5" y="783.5" font-size="40" text-anchor="middle"><tspan font-family="'Liberation Serif', serif" font-size="108%">β</tspan>-EUD</text>
<text x="1397" y="783.5" font-size="40" text-anchor="middle">CTL</text>
<text x="1543" y="783.5" font-size="40" text-anchor="middle"><tspan font-family="'Liberation Serif', serif" font-size="108%">β</tspan>-EUD</text>
<text x="1172" y="830" font-size="40" text-anchor="middle">saline</text>
<text x="1487" y="830" font-size="40" text-anchor="middle">thioperamide</text>
<text x="0" y="0" font-size="52" text-anchor="middle" transform="translate(914.2 433) rotate(-90) scale(0.935 1)" word-spacing="-4">Mean GVNA (%)</text>
<rect x="1048.5" y="1828.5" width="99" height="357.5" fill="#373737" stroke="#111" stroke-width="3.3"/>
<path d="M1098 1828.5V1799M1092 1799H1104" fill="none" stroke="#111" stroke-width="3.2"/>
<rect x="1196" y="1768.5" width="99.5" height="417.5" fill="#373737" stroke="#111" stroke-width="3.3"/>
<path d="M1246 1768.5V1733.5M1240 1733.5H1252" fill="none" stroke="#111" stroke-width="3.2"/>
<rect x="1345" y="1849" width="98.5" height="337" fill="#fff" stroke="#111" stroke-width="3.3"/>
<path d="M1394.5 1849V1825.5M1388.5 1825.5H1400.5" fill="none" stroke="#111" stroke-width="3.2"/>
<rect x="1493.5" y="1756.5" width="98" height="429.5" fill="#fff" stroke="#111" stroke-width="3.3"/>
<path d="M1543 1756.5V1728.5M1537 1728.5H1549" fill="none" stroke="#111" stroke-width="3.2"/>
<line x1="1023.6" y1="1665.76" x2="1023.6" y2="2187.75" stroke="#111" stroke-width="3.5" stroke-linecap="butt"/>
<line x1="1021.85" y1="2186" x2="1618.5" y2="2186" stroke="#111" stroke-width="3.5" stroke-linecap="butt"/>
<line x1="1023.6" y1="2128.39" x2="1033.6" y2="2128.39" stroke="#111" stroke-width="3.5" stroke-linecap="butt"/>
<line x1="1023.6" y1="2070.78" x2="1033.6" y2="2070.78" stroke="#111" stroke-width="3.5" stroke-linecap="butt"/>
<line x1="1023.6" y1="2013.17" x2="1033.6" y2="2013.17" stroke="#111" stroke-width="3.5" stroke-linecap="butt"/>
<line x1="1023.6" y1="1955.56" x2="1033.6" y2="1955.56" stroke="#111" stroke-width="3.5" stroke-linecap="butt"/>
<line x1="1023.6" y1="1897.95" x2="1033.6" y2="1897.95" stroke="#111" stroke-width="3.5" stroke-linecap="butt"/>
<line x1="1023.6" y1="1840.34" x2="1033.6" y2="1840.34" stroke="#111" stroke-width="3.5" stroke-linecap="butt"/>
<line x1="1023.6" y1="1782.73" x2="1033.6" y2="1782.73" stroke="#111" stroke-width="3.5" stroke-linecap="butt"/>
<line x1="1023.6" y1="1725.12" x2="1033.6" y2="1725.12" stroke="#111" stroke-width="3.5" stroke-linecap="butt"/>
<line x1="1023.6" y1="1667.51" x2="1033.6" y2="1667.51" stroke="#111" stroke-width="3.5" stroke-linecap="butt"/>
<line x1="1172" y1="2186" x2="1172" y2="2177" stroke="#111" stroke-width="3.3" stroke-linecap="butt"/>
<line x1="1320.5" y1="2186" x2="1320.5" y2="2177" stroke="#111" stroke-width="3.3" stroke-linecap="butt"/>
<line x1="1468.5" y1="2186" x2="1468.5" y2="2177" stroke="#111" stroke-width="3.3" stroke-linecap="butt"/>
<line x1="1617" y1="2186" x2="1617" y2="2177" stroke="#111" stroke-width="3.3" stroke-linecap="butt"/>
<text x="1000" y="2195.7" font-size="32" text-anchor="end">0</text>
<text x="1000" y="2138.09" font-size="32" text-anchor="end">10</text>
<text x="1000" y="2080.48" font-size="32" text-anchor="end">20</text>
<text x="1000" y="2022.87" font-size="32" text-anchor="end">30</text>
<text x="1000" y="1965.26" font-size="32" text-anchor="end">40</text>
<text x="1000" y="1907.65" font-size="32" text-anchor="end">50</text>
<text x="1000" y="1850.04" font-size="32" text-anchor="end">60</text>
<text x="1000" y="1792.43" font-size="32" text-anchor="end">70</text>
<text x="1000" y="1734.82" font-size="32" text-anchor="end">80</text>
<text x="1000" y="1677.21" font-size="32" text-anchor="end">90</text>
<line x1="1084" y1="1562.5" x2="1579" y2="1562.5" stroke="#111" stroke-width="3.2" stroke-linecap="butt"/>
<text x="1332" y="1550.3" font-size="38.5" text-anchor="middle" letter-spacing="0.7">n.s.</text>
<line x1="1262" y1="1602" x2="1576.5" y2="1602" stroke="#111" stroke-width="3.2" stroke-linecap="butt"/>
<text x="1419" y="1594.3" font-size="38.5" text-anchor="middle" letter-spacing="0.7">n.s.</text>
<line x1="1093" y1="1651" x2="1431" y2="1651" stroke="#111" stroke-width="3.2" stroke-linecap="butt"/>
<text x="1266.5" y="1638.8" font-size="38.5" text-anchor="middle" letter-spacing="0.7">n.s.</text>
<line x1="1089" y1="1695" x2="1235" y2="1695" stroke="#111" stroke-width="3.2" stroke-linecap="butt"/>
<text x="1172" y="1686.3" font-size="38.5" text-anchor="middle" letter-spacing="0.7">n.s.</text>
<line x1="1258" y1="1695" x2="1404.5" y2="1695" stroke="#111" stroke-width="3.2" stroke-linecap="butt"/>
<text x="1336" y="1686.3" font-size="38.5" text-anchor="middle" letter-spacing="0.7">n.s.</text>
<line x1="1421.5" y1="1695" x2="1568" y2="1695" stroke="#111" stroke-width="3.2" stroke-linecap="butt"/>
<text x="1487.5" y="1699.7" font-size="54" text-anchor="middle" font-family="IPAGothic, 'Liberation Serif', serif" style="stroke:none">*</text>
<text x="1094" y="2230" font-size="40" text-anchor="middle">CTL</text>
<text x="1240.5" y="2230" font-size="40" text-anchor="middle"><tspan font-family="'Liberation Serif', serif" font-size="108%">β</tspan>-EUD</text>
<text x="1392" y="2230" font-size="40" text-anchor="middle">CTL</text>
<text x="1537" y="2230" font-size="40" text-anchor="middle"><tspan font-family="'Liberation Serif', serif" font-size="108%">β</tspan>-EUD</text>
<text x="1175.5" y="2274" font-size="40" text-anchor="middle">sham</text>
<text x="1475.5" y="2274" font-size="40" text-anchor="middle">vagotomy</text>
<text x="0" y="0" font-size="52" text-anchor="middle" transform="translate(928.6 1902.8) rotate(-90) scale(0.935 1)" word-spacing="-4">Mean GVNA (%)</text>
<line x1="253" y1="940.75" x2="253" y2="1371.75" stroke="#111" stroke-width="3.5" stroke-linecap="butt"/>
<line x1="169.7" y1="1370" x2="785.3" y2="1370" stroke="#111" stroke-width="3.5" stroke-linecap="butt"/>
<line x1="253" y1="1309" x2="262" y2="1309" stroke="#111" stroke-width="3.5" stroke-linecap="butt"/>
<line x1="253" y1="1248" x2="262" y2="1248" stroke="#111" stroke-width="3.5" stroke-linecap="butt"/>
<line x1="253" y1="1187" x2="262" y2="1187" stroke="#111" stroke-width="3.5" stroke-linecap="butt"/>
<line x1="253" y1="1126" x2="262" y2="1126" stroke="#111" stroke-width="3.5" stroke-linecap="butt"/>
<line x1="253" y1="1065" x2="262" y2="1065" stroke="#111" stroke-width="3.5" stroke-linecap="butt"/>
<line x1="253" y1="1004" x2="262" y2="1004" stroke="#111" stroke-width="3.5" stroke-linecap="butt"/>
<line x1="253" y1="943" x2="262" y2="943" stroke="#111" stroke-width="3.5" stroke-linecap="butt"/>
<line x1="171.5" y1="1370" x2="171.5" y2="1361" stroke="#111" stroke-width="3.3" stroke-linecap="butt"/>
<line x1="375.5" y1="1370" x2="375.5" y2="1361" stroke="#111" stroke-width="3.3" stroke-linecap="butt"/>
<line x1="579.5" y1="1370" x2="579.5" y2="1361" stroke="#111" stroke-width="3.3" stroke-linecap="butt"/>
<line x1="783.5" y1="1370" x2="783.5" y2="1361" stroke="#111" stroke-width="3.3" stroke-linecap="butt"/>
<text x="232.7" y="1379" font-size="32" text-anchor="end">90</text>
<text x="232.7" y="1318" font-size="32" text-anchor="end">95</text>
<text x="237" y="1257" font-size="32" text-anchor="end">100</text>
<text x="237" y="1196" font-size="32" text-anchor="end">105</text>
<text x="237" y="1135" font-size="32" text-anchor="end">110</text>
<text x="237" y="1074" font-size="32" text-anchor="end">115</text>
<text x="237" y="1013" font-size="32" text-anchor="end">120</text>
<text x="237" y="952" font-size="32" text-anchor="end">125</text>
<text x="176.5" y="1411.5" font-size="32" text-anchor="middle">-100</text>
<text x="376.5" y="1411.5" font-size="32" text-anchor="middle">0</text>
<text x="586.5" y="1411.5" font-size="32" text-anchor="middle">100</text>
<text x="787.5" y="1411.5" font-size="32" text-anchor="middle">200</text>
<text x="491" y="1463.5" font-size="50" text-anchor="middle">Time (min.)</text>
<text x="0" y="0" font-size="50" text-anchor="middle" transform="translate(145.2 1120) rotate(-90) scale(0.966 1)">Histamine conc (%)</text>
<path d="M252.414 1205.86V1231.03M244.914 1205.86H259.914" fill="none" stroke="#111" stroke-width="3"/>
<path d="M252.414 1260V1288.97M244.914 1288.97H259.914" fill="none" stroke="#111" stroke-width="3"/>
<path d="M293.793 1192.76V1296.21M286.293 1192.76H301.293M286.293 1296.21H301.293" fill="none" stroke="#111" stroke-width="3"/>
<path d="M334.483 1240.34V1338.62M326.983 1240.34H341.983M326.983 1338.62H341.983" fill="none" stroke="#111" stroke-width="3"/>
<path d="M416.207 1176.55V1255.86M408.707 1176.55H423.707" fill="none" stroke="#111" stroke-width="3"/>
<path d="M456.897 1168.62V1324.14M449.397 1168.62H464.397M449.397 1324.14H464.397" fill="none" stroke="#111" stroke-width="3"/>
<path d="M497.931 1181.03V1333.45M490.431 1181.03H505.431M490.431 1333.45H505.431" fill="none" stroke="#111" stroke-width="3"/>
<path d="M538.621 1227.24V1281.03" fill="none" stroke="#111" stroke-width="3"/>
<path d="M580 1112.76V1204.14M572.5 1112.76H587.5" fill="none" stroke="#111" stroke-width="3"/>
<path d="M580 1246.55V1323.1M572.5 1323.1H587.5" fill="none" stroke="#111" stroke-width="3"/>
<path d="M620.69 1041.03V1143.79M613.19 1041.03H628.19" fill="none" stroke="#111" stroke-width="3"/>
<path d="M620.69 1303.1V1353.45M613.19 1353.45H628.19" fill="none" stroke="#111" stroke-width="3"/>
<path d="M661.034 995.517V1043.1M653.534 995.517H668.534" fill="none" stroke="#111" stroke-width="3"/>
<path d="M661.034 1265.17V1332.76M653.534 1332.76H668.534" fill="none" stroke="#111" stroke-width="3"/>
<path d="M702.414 1054.14V1103.1M694.914 1054.14H709.914" fill="none" stroke="#111" stroke-width="3"/>
<path d="M702.414 1261.72V1331.03M694.914 1331.03H709.914" fill="none" stroke="#111" stroke-width="3"/>
<path d="M743.103 1021.38V1062.07M735.603 1021.38H750.603" fill="none" stroke="#111" stroke-width="3"/>
<path d="M743.103 1241.38V1284.14M735.603 1284.14H750.603" fill="none" stroke="#111" stroke-width="3"/>
<polyline points="252.414,1231.03 293.793,1223.1 334.483,1225.52 375.862,1247.93 416.207,1202.41 456.897,1255.86 497.931,1254.14 538.621,1227.24 580,1246.55 620.69,1303.1 661.034,1265.17 702.414,1261.72 743.103,1241.38" fill="none" stroke="#8a8a8a" stroke-width="2.9" stroke-linejoin="round"/>
<rect x="240.164" y="1218.78" width="24.5" height="24.5" fill="#c0c0c0"/>
<rect x="281.543" y="1210.85" width="24.5" height="24.5" fill="#c0c0c0"/>
<rect x="322.233" y="1213.27" width="24.5" height="24.5" fill="#c0c0c0"/>
<rect x="363.612" y="1235.68" width="24.5" height="24.5" fill="#c0c0c0"/>
<rect x="403.957" y="1190.16" width="24.5" height="24.5" fill="#c0c0c0"/>
<rect x="444.647" y="1243.61" width="24.5" height="24.5" fill="#c0c0c0"/>
<rect x="485.681" y="1241.89" width="24.5" height="24.5" fill="#c0c0c0"/>
<rect x="526.371" y="1214.99" width="24.5" height="24.5" fill="#c0c0c0"/>
<rect x="567.75" y="1234.3" width="24.5" height="24.5" fill="#c0c0c0"/>
<rect x="608.44" y="1290.85" width="24.5" height="24.5" fill="#c0c0c0"/>
<rect x="648.784" y="1252.92" width="24.5" height="24.5" fill="#c0c0c0"/>
<rect x="690.164" y="1249.47" width="24.5" height="24.5" fill="#c0c0c0"/>
<rect x="730.853" y="1229.13" width="24.5" height="24.5" fill="#c0c0c0"/>
<polyline points="252.414,1260 293.793,1271.38 334.483,1304.14 375.862,1247.93 416.207,1255.86 456.897,1261.03 497.931,1247.24 538.621,1281.03 580,1204.14 620.69,1143.79 661.034,1043.1 702.414,1103.1 743.103,1062.07" fill="none" stroke="#000" stroke-width="3.2" stroke-linejoin="round"/>
<rect x="238.414" y="1246" width="28" height="28" fill="#000"/>
<rect x="279.793" y="1257.38" width="28" height="28" fill="#000"/>
<rect x="320.483" y="1290.14" width="28" height="28" fill="#000"/>
<rect x="361.862" y="1233.93" width="28" height="28" fill="#000"/>
<rect x="402.207" y="1241.86" width="28" height="28" fill="#000"/>
<rect x="442.897" y="1247.03" width="28" height="28" fill="#000"/>
<rect x="483.931" y="1233.24" width="28" height="28" fill="#000"/>
<rect x="524.621" y="1267.03" width="28" height="28" fill="#000"/>
<rect x="566" y="1190.14" width="28" height="28" fill="#000"/>
<rect x="606.69" y="1129.79" width="28" height="28" fill="#000"/>
<rect x="647.034" y="1029.1" width="28" height="28" fill="#000"/>
<rect x="688.414" y="1089.1" width="28" height="28" fill="#000"/>
<rect x="729.103" y="1048.07" width="28" height="28" fill="#000"/>
<rect x="314.75" y="962.25" width="16.5" height="16.5" fill="#c4c4c4"/>
<rect x="314.75" y="1011.75" width="16.5" height="16.5" fill="#000"/>
<text x="349" y="978.5" font-size="32">CTL</text>
<text x="349" y="1028.5" font-size="32"><tspan font-family="'Liberation Serif', serif" font-size="108%">β</tspan>-EUD</text>
<text x="667.5" y="994.6" font-size="54" text-anchor="middle" font-family="IPAGothic, 'Liberation Serif', serif" style="stroke:none">*</text>
<text x="740" y="994.6" font-size="54" text-anchor="middle" font-family="IPAGothic, 'Liberation Serif', serif" style="stroke:none">*</text>
<line x1="1023" y1="976.75" x2="1023" y2="1369.75" stroke="#111" stroke-width="3.5" stroke-linecap="butt"/>
<line x1="1021.25" y1="1368" x2="1620" y2="1368" stroke="#111" stroke-width="3.5" stroke-linecap="butt"/>
<line x1="1023" y1="1329.05" x2="1032" y2="1329.05" stroke="#111" stroke-width="3.5" stroke-linecap="butt"/>
<line x1="1023" y1="1290.1" x2="1032" y2="1290.1" stroke="#111" stroke-width="3.5" stroke-linecap="butt"/>
<line x1="1023" y1="1251.15" x2="1032" y2="1251.15" stroke="#111" stroke-width="3.5" stroke-linecap="butt"/>
<line x1="1023" y1="1212.2" x2="1032" y2="1212.2" stroke="#111" stroke-width="3.5" stroke-linecap="butt"/>
<line x1="1023" y1="1173.25" x2="1032" y2="1173.25" stroke="#111" stroke-width="3.5" stroke-linecap="butt"/>
<line x1="1023" y1="1134.3" x2="1032" y2="1134.3" stroke="#111" stroke-width="3.5" stroke-linecap="butt"/>
<line x1="1023" y1="1095.35" x2="1032" y2="1095.35" stroke="#111" stroke-width="3.5" stroke-linecap="butt"/>
<line x1="1023" y1="1056.4" x2="1032" y2="1056.4" stroke="#111" stroke-width="3.5" stroke-linecap="butt"/>
<line x1="1023" y1="1017.45" x2="1032" y2="1017.45" stroke="#111" stroke-width="3.5" stroke-linecap="butt"/>
<line x1="1023" y1="978.5" x2="1032" y2="978.5" stroke="#111" stroke-width="3.5" stroke-linecap="butt"/>
<line x1="1193" y1="1368" x2="1193" y2="1359" stroke="#111" stroke-width="3.3" stroke-linecap="butt"/>
<line x1="1363.5" y1="1368" x2="1363.5" y2="1359" stroke="#111" stroke-width="3.3" stroke-linecap="butt"/>
<line x1="1533" y1="1368" x2="1533" y2="1359" stroke="#111" stroke-width="3.3" stroke-linecap="butt"/>
<text x="1007" y="1377.7" font-size="32" text-anchor="end">0</text>
<text x="1007" y="1338.75" font-size="32" text-anchor="end">1</text>
<text x="1007" y="1299.8" font-size="32" text-anchor="end">2</text>
<text x="1007" y="1260.85" font-size="32" text-anchor="end">3</text>
<text x="1007" y="1221.9" font-size="32" text-anchor="end">4</text>
<text x="1007" y="1182.95" font-size="32" text-anchor="end">5</text>
<text x="1007" y="1144" font-size="32" text-anchor="end">6</text>
<text x="1007" y="1105.05" font-size="32" text-anchor="end">7</text>
<text x="1007" y="1066.1" font-size="32" text-anchor="end">8</text>
<text x="1007" y="1027.15" font-size="32" text-anchor="end">9</text>
<text x="1007" y="988.2" font-size="32" text-anchor="end">10</text>
<text x="1025" y="1413" font-size="32" text-anchor="middle">0.0001</text>
<text x="1193" y="1413" font-size="32" text-anchor="middle">0.01</text>
<text x="1363.5" y="1413" font-size="32" text-anchor="middle">1</text>
<text x="1535" y="1413" font-size="32" text-anchor="middle">100</text>
<text x="1009" y="957.5" font-size="32">x10<tspan dy="-11" font-size="22">4</tspan></text>
<text x="1302" y="1453" font-size="49" text-anchor="middle"><tspan font-family="'Liberation Serif', serif" font-size="108%">μ</tspan>M</text>
<text x="0" y="0" font-size="50" text-anchor="middle" transform="translate(948 1158) rotate(-90) scale(0.99 1)">H<tspan font-size="30" dy="2">3</tspan><tspan dy="-2">R activity (RLU)</tspan></text>
<path d="M1072.9 1315.2C1077.2 1314.5 1090.0 1311.5 1098.5 1311.2C1107.1 1311.0 1115.6 1314.1 1124.1 1313.6C1132.7 1313.1 1141.2 1310.9 1149.8 1308.1C1158.3 1305.3 1166.8 1305.6 1175.4 1296.7C1184.0 1287.7 1192.8 1270.2 1201.4 1254.5C1210.0 1238.8 1218.5 1217.6 1227.0 1202.5C1235.5 1187.3 1243.7 1181.5 1252.2 1163.4C1260.8 1145.4 1268.3 1116.5 1278.2 1094.1C1288.1 1071.7 1300.2 1042.9 1311.7 1029.1C1323.3 1015.2 1341.6 1014.0 1347.6 1010.9" fill="none" stroke="#000" stroke-width="5.5" stroke-linecap="round"/>
<circle cx="1072.91" cy="1315.17" r="11" fill="#fff" stroke="#111" stroke-width="2.7"/>
<circle cx="1098.52" cy="1311.23" r="11" fill="#fff" stroke="#111" stroke-width="2.7"/>
<circle cx="1124.14" cy="1313.6" r="11" fill="#fff" stroke="#111" stroke-width="2.7"/>
<circle cx="1149.75" cy="1308.08" r="11" fill="#fff" stroke="#111" stroke-width="2.7"/>
<circle cx="1175.37" cy="1296.65" r="11" fill="#fff" stroke="#111" stroke-width="2.7"/>
<circle cx="1201.38" cy="1254.48" r="11" fill="#fff" stroke="#111" stroke-width="2.7"/>
<circle cx="1227" cy="1202.46" r="11" fill="#fff" stroke="#111" stroke-width="2.7"/>
<circle cx="1252.22" cy="1163.45" r="11" fill="#fff" stroke="#111" stroke-width="2.7"/>
<circle cx="1278.23" cy="1094.09" r="11" fill="#fff" stroke="#111" stroke-width="2.7"/>
<circle cx="1311.72" cy="1029.06" r="11" fill="#fff" stroke="#111" stroke-width="2.7"/>
<circle cx="1347.59" cy="1010.94" r="11" fill="#fff" stroke="#111" stroke-width="2.7"/>
<circle cx="1302.66" cy="1312.41" r="11.3" fill="#000" stroke="#111" stroke-width="2"/>
<circle cx="1328.28" cy="1310.44" r="11.3" fill="#000" stroke="#111" stroke-width="2"/>
<circle cx="1353.89" cy="1317.14" r="11.3" fill="#000" stroke="#111" stroke-width="2"/>
<circle cx="1379.51" cy="1315.57" r="11.3" fill="#000" stroke="#111" stroke-width="2"/>
<circle cx="1405.12" cy="1312.02" r="11.3" fill="#000" stroke="#111" stroke-width="2"/>
<circle cx="1430.74" cy="1311.63" r="11.3" fill="#000" stroke="#111" stroke-width="2"/>
<circle cx="1456.35" cy="1312.41" r="11.3" fill="#000" stroke="#111" stroke-width="2"/>
<circle cx="1481.97" cy="1315.57" r="11.3" fill="#000" stroke="#111" stroke-width="2"/>
<circle cx="1508.37" cy="1315.57" r="11.3" fill="#000" stroke="#111" stroke-width="2"/>
<line x1="1414.5" y1="1015.2" x2="1477.5" y2="1015.2" stroke="#111" stroke-width="6" stroke-linecap="round"/>
<circle cx="1445.5" cy="1015.2" r="10.2" fill="#fff" stroke="#111" stroke-width="2.7"/>
<line x1="1414.5" y1="1076.8" x2="1477.5" y2="1076.8" stroke="#111" stroke-width="6" stroke-linecap="round"/>
<circle cx="1445.5" cy="1076.8" r="11.2" fill="#2a2a2a" stroke="#111" stroke-width="2"/>
<text x="1496" y="1024" font-size="40"><tspan font-family="'Liberation Serif', serif" font-size="108%">α</tspan>-MH</text>
<text x="1497" y="1083.4" font-size="39"><tspan font-family="'Liberation Serif', serif" font-size="108%">β</tspan>-EUD</text>
</svg>
</body></html>
